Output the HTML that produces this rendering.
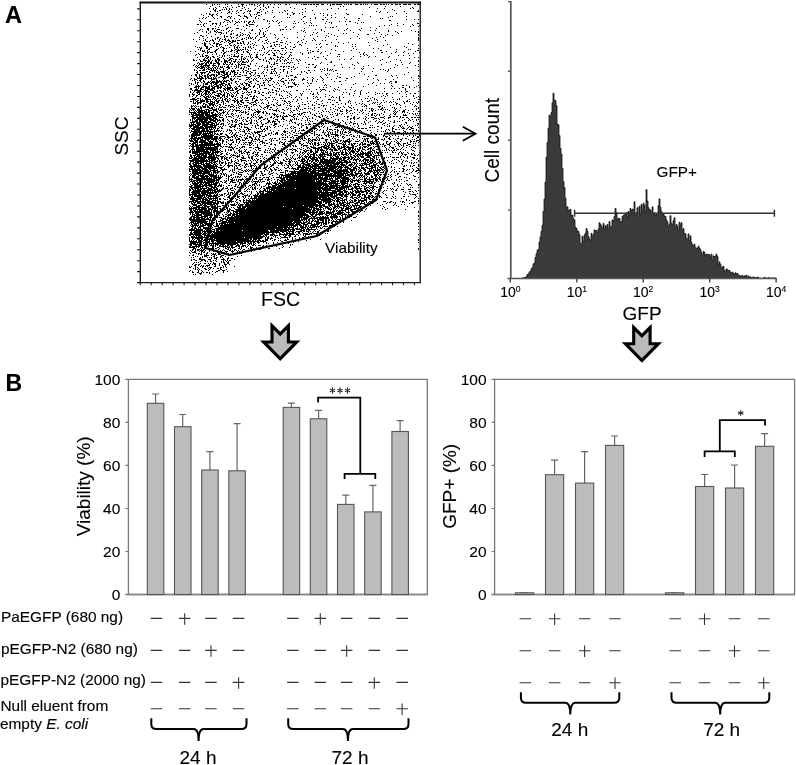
<!DOCTYPE html><html><head><meta charset="utf-8"><style>html,body{margin:0;padding:0;background:#fff;overflow:hidden}svg{display:block;filter:grayscale(1)}text{font-family:"Liberation Sans", sans-serif;stroke:#000;stroke-width:0.12px}</style></head><body>
<svg width="796" height="765" viewBox="0 0 796 765">
<rect width="796" height="765" fill="#fff"/>
<text x="5" y="23" font-size="23.5" font-weight="bold">A</text>
<text x="5.5" y="391" font-size="23" font-weight="bold">B</text>
<path d="M418 3.5h1M206 4.5h1m5 0h1m1 0h1m2 0h1m1 0h1m5 0h1m1 0h1m10 0h1m2 0h3m5 0h1m1 0h2m1 0h1m2 0h1m2 0h1m2 0h1m3 0h1m2 0h1m3 0h1m3 0h1m1 0h1m4 0h2m2 0h1m6 0h1m4 0h1m1 0h4m1 0h1m1 0h2m1 0h2m1 0h3m2 0h3m3 0h1m2 0h1m1 0h3m1 0h6m2 0h1m1 0h1m1 0h1m1 0h2m3 0h3m2 0h2m1 0h1m1 0h1m1 0h1m3 0h1m2 0h4m2 0h2m1 0h2m1 0h1m1 0h1m2 0h2m2 0h3m1 0h2m2 0h4m1 0h3m3 0h2m1 0h3M212 5.5h1m18 0h1m10 0h1m3 0h1m7 0h1m4 0h1m3 0h1m66 0h1M210 6.5h1m8 0h1m7 0h1m10 0h2m2 0h1m14 0h1m5 0h1m4 0h1m47 0h1m23 0h1m2 0h1m41 0h1m14 0h1M215 7.5h1m7 0h1m1 0h1m6 0h1m3 0h1m7 0h1m15 0h1m4 0h1m2 0h1m4 0h1m4 0h1m11 0h1m78 0h1m42 0h1M209 8.5h1m3 0h1m2 0h1m9 0h1m2 0h1m12 0h1m5 0h1m6 0h1m10 0h1m27 0h1m10 0h1m25 0h1m6 0h1m38 0h1m6 0h1m25 0h1m2 0h1M213 9.5h1m1 0h1m6 0h1m1 0h1m1 0h1m2 0h1m1 0h1m13 0h1m8 0h1m5 0h1m2 0h1m38 0h1m24 0h1m18 0h1m45 0h1M214 10.5h2m3 0h2m7 0h1m8 0h1m2 0h2m6 0h1m1 0h1m8 0h1m12 0h1m11 0h1m2 0h1m24 0h1m81 0h1m23 0h1M210 11.5h1m4 0h1m1 0h1m11 0h1m2 0h1m3 0h1m10 0h1m1 0h2m10 0h1m5 0h1m17 0h1m19 0h1m70 0h1m3 0h1m23 0h1m12 0h2M221 12.5h1m6 0h2m8 0h1m5 0h1m12 0h3m5 0h1m6 0h1m6 0h1m2 0h1m9 0h1m9 0h1m76 0h1m7 0h1M206 13.5h1m2 0h1m7 0h1m9 0h1m3 0h1m4 0h1m6 0h1m5 0h1m7 0h1m7 0h1m21 0h1m5 0h2m4 0h1m20 0h1m2 0h1m11 0h1m10 0h1m49 0h1m9 0h1M201 14.5h1m7 0h2m1 0h2m2 0h1m33 0h1m3 0h1m1 0h1m4 0h1m25 0h1m5 0h1m8 0h1m11 0h1m12 0h1m19 0h2m13 0h1M203 15.5h1m7 0h2m4 0h1m20 0h2m4 0h1m5 0h1m7 0h2m30 0h1m32 0h1m3 0h1m3 0h1M208 16.5h1m3 0h1m7 0h2m6 0h2m1 0h1m8 0h1m3 0h3m4 0h1m4 0h1m17 0h1m29 0h2m64 0h1m19 0h1m1 0h1m13 0h1M203 17.5h1m2 0h1m6 0h1m7 0h1m5 0h1m2 0h1m15 0h2m7 0h1m17 0h1m13 0h1m1 0h1m13 0h1m11 0h1m9 0h1m5 0h1m3 0h1m8 0h1m43 0h1M199 18.5h1m2 0h1m2 0h1m8 0h1m2 0h1m12 0h1m3 0h1m8 0h1m3 0h1m7 0h1m2 0h1m51 0h1m4 0h1m42 0h2m20 0h1m1 0h1M224 19.5h2m13 0h1m23 0h2m36 0h1m20 0h2m3 0h1m18 0h1m59 0h1m7 0h1m3 0h1M199 20.5h1m26 0h3m3 0h1m20 0h1m13 0h1m4 0h1m4 0h1m32 0h1m47 0h1m30 0h2M200 21.5h1m8 0h2m13 0h1m4 0h1m2 0h1m2 0h1m2 0h1m2 0h1m2 0h1m1 0h1m2 0h2m2 0h1m13 0h1m1 0h1m3 0h1m2 0h1m4 0h1m12 0h1m8 0h1m22 0h1m12 0h1m5 0h1m3 0h2M201 22.5h1m18 0h1m2 0h1m3 0h1m2 0h1m5 0h2m1 0h1m4 0h1m3 0h2m2 0h1m1 0h1m24 0h1m18 0h1m7 0h1m3 0h1m18 0h1m1 0h1m23 0h1m5 0h1m1 0h1M204 23.5h1m1 0h1m5 0h2m1 0h2m3 0h1m14 0h1m12 0h1m20 0h1m8 0h1m14 0h1m1 0h1m8 0h1m6 0h1m13 0h1m5 0h1m25 0h1m39 0h1m19 0h2M197 24.5h2m1 0h1m2 0h1m8 0h1m3 0h1m3 0h1m6 0h1m6 0h1m11 0h1m2 0h5m92 0h1m44 0h1m11 0h1m8 0h1M203 25.5h1m6 0h1m8 0h1m5 0h1m11 0h1m8 0h2m9 0h1m21 0h1m29 0h1m1 0h1m1 0h1m2 0h1m67 0h1m4 0h1m7 0h1m15 0h1m5 0h1M201 26.5h1m2 0h1m10 0h1m6 0h1m20 0h1m5 0h1m6 0h1m12 0h1m16 0h1m7 0h1m41 0h1m42 0h1m30 0h1m7 0h1M218 27.5h1m9 0h1m1 0h1m37 0h1m16 0h1m7 0h1m31 0h1m4 0h1m1 0h2m36 0h1M207 28.5h2m3 0h2m1 0h1m10 0h2m8 0h3m7 0h1m15 0h1m3 0h1m37 0h1m42 0h1m13 0h1m14 0h1M200 29.5h1m1 0h1m4 0h2m3 0h1m4 0h3m6 0h1m14 0h1m10 0h1m6 0h1m20 0h1m1 0h2m2 0h1m3 0h1m24 0h1m5 0h1m24 0h1m12 0h1M199 30.5h1m8 0h1m5 0h1m1 0h1m4 0h1m1 0h1m5 0h1m2 0h1m11 0h1m6 0h2m7 0h1m6 0h1m12 0h1m20 0h1m2 0h1m16 0h1m16 0h1m5 0h1m5 0h1m9 0h1m9 0h1m4 0h1m12 0h1m22 0h1M202 31.5h1m3 0h1m3 0h1m3 0h2m1 0h1m10 0h1m2 0h1m28 0h1m4 0h1m37 0h1m20 0h1m63 0h1m6 0h1m5 0h1m13 0h1m2 0h1M197 32.5h1m8 0h1m3 0h1m5 0h1m1 0h4m4 0h1m13 0h1m8 0h1m9 0h1m3 0h1m33 0h1m7 0h1m7 0h1m3 0h1m35 0h1m25 0h1m17 0h1m20 0h1M194 33.5h1m13 0h1m12 0h1m1 0h1m2 0h1m4 0h1m1 0h1m8 0h1m7 0h1m4 0h1m3 0h1m3 0h1m6 0h1m45 0h1m11 0h1m14 0h1m2 0h1m27 0h1m23 0h1M215 34.5h1m4 0h1m9 0h2m5 0h1m2 0h1m2 0h1m1 0h1m2 0h1m10 0h1m3 0h1m1 0h1m8 0h1m7 0h1m29 0h1m18 0h1m26 0h1m8 0h2m12 0h1m5 0h1m30 0h1M200 35.5h2m4 0h1m17 0h1m11 0h2m2 0h1m1 0h1m4 0h1m1 0h1m7 0h1m6 0h1m10 0h1m34 0h1m15 0h1m7 0h1m50 0h1m6 0h1m25 0h1M202 36.5h2m7 0h1m12 0h1m1 0h2m2 0h1m8 0h1m9 0h1m6 0h1m6 0h2m39 0h1m12 0h1m10 0h1m8 0h1m19 0h1m22 0h1M199 37.5h1m7 0h1m9 0h2m5 0h1m6 0h1m1 0h1m3 0h1m8 0h1m1 0h1m1 0h1m1 0h1m2 0h1m4 0h2m4 0h1m8 0h1m8 0h1m12 0h1m27 0h1m50 0h1m6 0h1m34 0h1M203 38.5h1m11 0h1m1 0h1m2 0h1m4 0h1m5 0h1m4 0h1m5 0h1m1 0h1m3 0h1m1 0h2m3 0h1m22 0h1m8 0h1m25 0h1m36 0h1m8 0h1m12 0h1m45 0h1M193 39.5h1m5 0h1m5 0h1m6 0h1m2 0h1m3 0h1m2 0h1m1 0h2m2 0h1m12 0h2m3 0h1m6 0h1m5 0h1m7 0h1m9 0h1m25 0h1m10 0h1m21 0h1m40 0h1m40 0h1M203 40.5h1m1 0h1m4 0h1m1 0h2m5 0h1m5 0h1m1 0h3m2 0h2m1 0h1m1 0h3m18 0h1m6 0h2m14 0h1m19 0h1m10 0h1m2 0h1m6 0h1m2 0h1m49 0h1m9 0h1m32 0h1M196 41.5h1m9 0h2m1 0h1m3 0h1m4 0h1m2 0h2m3 0h1m2 0h2m1 0h4m6 0h2m6 0h1m11 0h1m5 0h1m7 0h2m8 0h1m11 0h1m7 0h1m70 0h1M204 42.5h1m9 0h1m5 0h1m3 0h1m3 0h1m2 0h2m4 0h1m2 0h1m2 0h1m4 0h1m6 0h1m10 0h1m6 0h2m5 0h3m7 0h1m6 0h1m4 0h1m28 0h1m6 0h1m9 0h1m19 0h1M202 43.5h1m1 0h2m3 0h1m3 0h2m1 0h3m10 0h2m6 0h2m1 0h2m1 0h1m4 0h1m3 0h1m11 0h1m2 0h1m2 0h1m14 0h1m19 0h1m14 0h1m22 0h1m64 0h1M204 44.5h2m4 0h1m5 0h2m1 0h3m7 0h1m4 0h1m9 0h1m2 0h1m2 0h1m3 0h1m19 0h1m1 0h2m1 0h1m7 0h1m6 0h1m4 0h2m15 0h1m2 0h1m6 0h2m24 0h1m2 0h1m31 0h1m24 0h1M204 45.5h2m6 0h1m3 0h1m2 0h1m5 0h1m1 0h1m2 0h2m1 0h1m1 0h1m2 0h1m2 0h1m11 0h1m2 0h1m5 0h1m8 0h1m2 0h1m6 0h1m19 0h1m33 0h1m33 0h1m13 0h1m34 0h1M195 46.5h1m9 0h3m5 0h1m2 0h2m3 0h1m12 0h1m2 0h1m10 0h1m1 0h1m12 0h1m6 0h2m3 0h1m3 0h1m5 0h1m4 0h1m4 0h1m25 0h1m13 0h1m1 0h1m14 0h1m2 0h1m48 0h1M197 47.5h1m1 0h1m1 0h1m4 0h2m2 0h2m8 0h1m1 0h2m5 0h1m4 0h1m1 0h2m1 0h1m3 0h1m1 0h1m2 0h1m1 0h1m2 0h1m9 0h1m3 0h1m17 0h1m7 0h2m21 0h1m3 0h1m69 0h1m15 0h1M200 48.5h2m4 0h2m1 0h1m8 0h1m4 0h2m1 0h1m7 0h1m2 0h1m7 0h1m5 0h1m10 0h1m1 0h1m7 0h2m7 0h3m2 0h1m20 0h1m45 0h1m19 0h1m4 0h1m39 0h1M198 49.5h1m1 0h1m7 0h2m6 0h2m5 0h1m7 0h1m3 0h2m1 0h1m1 0h1m1 0h2m1 0h1m1 0h1m7 0h1m8 0h1m25 0h1m1 0h1m25 0h1m12 0h1m24 0h1m39 0h1m11 0h1m1 0h1M200 50.5h1m1 0h1m1 0h1m2 0h1m7 0h2m5 0h2m7 0h2m1 0h1m2 0h3m1 0h1m6 0h1m1 0h1m8 0h1m1 0h1m7 0h1m1 0h1m2 0h2m1 0h2m3 0h1m2 0h1m21 0h1m2 0h1m24 0h1m15 0h1m28 0h2m35 0h2M190 51.5h1m4 0h1m6 0h3m2 0h1m1 0h1m4 0h2m7 0h1m2 0h1m1 0h1m1 0h2m4 0h2m5 0h1m2 0h2m20 0h1m10 0h1m32 0h2m3 0h2m6 0h1m17 0h1m42 0h1m9 0h1m7 0h1m10 0h1M205 52.5h1m1 0h2m1 0h3m2 0h1m5 0h1m2 0h2m8 0h1m2 0h1m5 0h1m3 0h2m5 0h1m2 0h1m6 0h1m2 0h1m4 0h1m3 0h1m9 0h1m3 0h2m8 0h1m7 0h1m1 0h1m10 0h1m37 0h1m4 0h1m8 0h1m7 0h2m12 0h1m7 0h1m15 0h1M198 53.5h1m4 0h1m3 0h1m8 0h1m6 0h2m11 0h1m1 0h1m10 0h1m16 0h1m6 0h2m5 0h1m4 0h1m16 0h1m5 0h1m11 0h1m9 0h1m32 0h1m27 0h1m16 0h1m4 0h1M196 54.5h1m2 0h1m2 0h1m9 0h1m3 0h1m6 0h1m7 0h1m2 0h1m6 0h2m6 0h1m1 0h1m4 0h2m2 0h1m2 0h1m4 0h2m4 0h1m6 0h2m1 0h1m5 0h1m11 0h1m35 0h2m20 0h1m2 0h1m2 0h1M195 55.5h1m6 0h1m2 0h3m11 0h1m2 0h1m1 0h1m2 0h1m1 0h1m4 0h1m3 0h1m11 0h1m5 0h1m5 0h1m10 0h3m13 0h1m1 0h1m35 0h1m36 0h1m2 0h1m30 0h1m4 0h1m5 0h1M200 56.5h1m1 0h2m2 0h1m1 0h1m3 0h2m3 0h1m4 0h1m1 0h1m6 0h1m1 0h6m2 0h2m3 0h1m1 0h1m1 0h1m5 0h2m19 0h1m3 0h1m7 0h1m24 0h1m8 0h1m13 0h1m1 0h1m13 0h1m6 0h1m8 0h1m5 0h1m13 0h1M197 57.5h1m7 0h1m1 0h2m1 0h1m2 0h2m4 0h1m1 0h1m7 0h1m7 0h1m3 0h1m2 0h1m5 0h1m1 0h1m2 0h3m7 0h1m4 0h1m6 0h2m1 0h1m1 0h2m4 0h1m19 0h1m8 0h2m49 0h1m19 0h1m25 0h1m3 0h1M204 58.5h1m1 0h2m2 0h1m6 0h2m4 0h1m3 0h1m2 0h3m8 0h1m1 0h1m1 0h1m5 0h1m6 0h1m6 0h1m4 0h2m1 0h1m6 0h1m6 0h1m3 0h1m1 0h1m18 0h1m12 0h1m25 0h1m57 0h1M193 59.5h1m5 0h1m3 0h2m3 0h1m1 0h1m4 0h1m1 0h3m4 0h1m4 0h2m2 0h1m1 0h2m2 0h1m1 0h1m1 0h2m2 0h1m5 0h1m5 0h2m2 0h1m5 0h1m1 0h1m2 0h1m2 0h1m1 0h1m2 0h1m2 0h1m2 0h1m7 0h1m2 0h1m15 0h1m10 0h1m12 0h1m4 0h1m5 0h1m31 0h1m13 0h1M193 60.5h2m1 0h1m3 0h1m2 0h4m1 0h2m2 0h1m2 0h2m1 0h2m4 0h3m1 0h2m1 0h1m3 0h1m5 0h1m6 0h1m3 0h1m10 0h1m2 0h1m10 0h1m2 0h1m3 0h1m1 0h1m4 0h1m5 0h1m2 0h1m79 0h1m19 0h1m17 0h1M200 61.5h3m2 0h1m1 0h3m1 0h1m3 0h2m1 0h1m2 0h1m2 0h4m3 0h1m1 0h3m2 0h1m1 0h1m1 0h2m2 0h1m1 0h1m2 0h1m14 0h1m1 0h1m7 0h1m3 0h1m3 0h1m13 0h1m32 0h1m58 0h1m27 0h1M198 62.5h1m5 0h1m1 0h3m1 0h2m4 0h3m5 0h2m1 0h1m1 0h2m3 0h1m2 0h1m1 0h1m2 0h4m1 0h1m21 0h1m4 0h1m12 0h2m1 0h1m1 0h1m12 0h1m15 0h1m8 0h2m25 0h1m28 0h1m14 0h1m8 0h1M197 63.5h1m1 0h1m1 0h3m1 0h2m1 0h1m1 0h2m1 0h3m1 0h3m3 0h1m1 0h1m4 0h1m1 0h1m5 0h1m2 0h1m8 0h1m5 0h1m12 0h1m4 0h1m1 0h2m4 0h1m1 0h1m1 0h1m2 0h1m8 0h1m21 0h1m37 0h1m50 0h1M194 64.5h1m4 0h4m2 0h2m2 0h1m3 0h1m4 0h2m3 0h2m1 0h2m1 0h1m1 0h2m2 0h1m2 0h2m1 0h5m4 0h1m20 0h1m1 0h2m19 0h1m13 0h2m2 0h2m13 0h1m13 0h1m10 0h1m28 0h1m13 0h1m6 0h1m15 0h1M193 65.5h1m2 0h1m1 0h1m2 0h1m1 0h7m2 0h4m2 0h1m9 0h1m7 0h1m1 0h1m1 0h1m6 0h2m6 0h1m6 0h1m4 0h1m9 0h1m38 0h1m17 0h1m19 0h1m13 0h1m28 0h1m17 0h1M195 66.5h1m1 0h1m2 0h4m1 0h1m1 0h2m4 0h1m2 0h1m1 0h1m1 0h1m1 0h1m1 0h1m2 0h2m2 0h1m2 0h1m1 0h1m1 0h1m5 0h1m3 0h2m9 0h1m1 0h1m5 0h1m2 0h1m1 0h1m7 0h2m1 0h2m1 0h1m1 0h2m3 0h1m21 0h1m47 0h1m54 0h1M196 67.5h1m1 0h2m1 0h4m1 0h1m1 0h2m2 0h1m1 0h2m1 0h1m2 0h3m3 0h4m6 0h1m1 0h1m2 0h1m2 0h1m1 0h1m17 0h1m1 0h2m3 0h1m11 0h1m7 0h1m1 0h1m3 0h1m8 0h1m1 0h1m5 0h2m26 0h1m6 0h1m44 0h1m12 0h1M197 68.5h1m2 0h3m1 0h1m2 0h2m1 0h2m1 0h1m1 0h1m1 0h1m1 0h1m3 0h1m4 0h2m2 0h1m2 0h1m4 0h2m1 0h1m4 0h1m1 0h1m7 0h1m15 0h2m12 0h1m6 0h1m28 0h1m2 0h1m26 0h1m6 0h1m1 0h1m9 0h1m16 0h1M194 69.5h1m8 0h2m1 0h1m1 0h2m1 0h1m1 0h1m2 0h1m3 0h1m2 0h1m3 0h1m15 0h1m4 0h1m15 0h1m2 0h1m3 0h2m1 0h1m5 0h1m2 0h2m6 0h1m2 0h1m25 0h1m1 0h1m4 0h1m2 0h1m1 0h1m29 0h1m17 0h1m2 0h1m4 0h1M194 70.5h1m1 0h1m2 0h2m1 0h3m5 0h6m1 0h1m5 0h1m1 0h1m5 0h1m1 0h2m2 0h2m3 0h1m2 0h2m6 0h3m11 0h1m6 0h1m8 0h1m24 0h2m4 0h1m9 0h1m2 0h1m1 0h1m1 0h1m3 0h2m48 0h1m2 0h1m29 0h1M197 71.5h1m8 0h2m1 0h1m2 0h1m1 0h1m1 0h1m1 0h1m1 0h5m3 0h1m2 0h4m8 0h1m3 0h2m1 0h1m12 0h1m7 0h1m1 0h1m1 0h1m7 0h1m3 0h1m3 0h1m9 0h1m2 0h1m16 0h1m11 0h1m27 0h1m10 0h1m14 0h1M196 72.5h2m2 0h6m3 0h2m3 0h1m1 0h4m1 0h4m1 0h2m2 0h1m1 0h1m1 0h2m1 0h1m2 0h1m2 0h1m2 0h1m4 0h2m2 0h1m6 0h1m3 0h1m4 0h1m4 0h1m3 0h1m6 0h1m13 0h1m4 0h1m3 0h1m97 0h1M197 73.5h1m3 0h2m1 0h1m3 0h1m9 0h2m3 0h2m1 0h2m2 0h1m3 0h1m2 0h1m8 0h1m2 0h2m4 0h1m2 0h1m2 0h1m1 0h1m6 0h3m1 0h1m1 0h1m10 0h1m19 0h1m19 0h1m9 0h1m21 0h1M195 74.5h2m2 0h1m1 0h1m5 0h2m2 0h4m1 0h1m1 0h2m1 0h1m2 0h4m1 0h2m3 0h3m2 0h2m9 0h1m3 0h1m24 0h1m17 0h1m2 0h1m24 0h1m3 0h1m10 0h1m23 0h1m39 0h1M191 75.5h1m3 0h2m2 0h1m2 0h1m1 0h2m1 0h1m1 0h3m1 0h2m1 0h2m4 0h3m2 0h2m5 0h1m7 0h1m1 0h3m4 0h1m1 0h1m3 0h3m4 0h1m1 0h1m8 0h1m1 0h1m8 0h1m3 0h3m33 0h1m48 0h2m14 0h1m4 0h1m21 0h1M196 76.5h1m2 0h3m2 0h2m1 0h2m1 0h1m3 0h1m1 0h1m3 0h2m2 0h1m1 0h3m2 0h1m1 0h1m1 0h1m1 0h4m9 0h1m4 0h1m3 0h1m4 0h1m14 0h1m6 0h1m1 0h1m6 0h1m24 0h1m16 0h1m16 0h1m13 0h1m23 0h1m25 0h2M197 77.5h1m1 0h1m1 0h2m2 0h1m1 0h2m2 0h1m1 0h1m1 0h1m2 0h2m2 0h5m1 0h1m17 0h4m8 0h1m11 0h1m7 0h1m15 0h3m10 0h1m4 0h1m8 0h1m5 0h1m11 0h2m10 0h1m45 0h1m13 0h1M191 78.5h1m2 0h1m2 0h7m1 0h2m1 0h4m1 0h4m6 0h3m4 0h2m2 0h1m2 0h1m10 0h1m2 0h1m2 0h1m1 0h1m3 0h1m1 0h1m2 0h1m2 0h1m1 0h3m9 0h2m4 0h1m14 0h1m9 0h1m8 0h1m13 0h1m9 0h2m25 0h1m44 0h1M190 79.5h1m3 0h3m3 0h2m3 0h1m5 0h4m1 0h1m6 0h1m6 0h2m1 0h1m5 0h2m5 0h2m1 0h1m3 0h1m1 0h1m10 0h1m4 0h1m9 0h1m9 0h2m1 0h1m7 0h3m7 0h1m4 0h1m5 0h1m7 0h1m35 0h1m9 0h1m7 0h1m7 0h1M192 80.5h1m1 0h1m2 0h1m1 0h2m2 0h1m7 0h1m4 0h2m1 0h1m2 0h1m1 0h1m1 0h3m2 0h2m12 0h1m7 0h1m2 0h1m6 0h1m1 0h1m1 0h1m1 0h2m7 0h1m1 0h1m4 0h2m2 0h1m1 0h1m1 0h1m8 0h1m4 0h1m4 0h1m9 0h1m22 0h1m32 0h1m34 0h1M195 81.5h1m4 0h1m2 0h2m3 0h1m1 0h1m1 0h3m1 0h6m1 0h4m2 0h1m5 0h2m1 0h1m9 0h1m1 0h2m5 0h2m9 0h1m4 0h1m7 0h3m28 0h1m3 0h1m17 0h1m4 0h2m49 0h2m3 0h2M195 82.5h1m1 0h2m2 0h1m2 0h1m2 0h3m1 0h8m1 0h2m1 0h1m2 0h1m4 0h1m3 0h1m8 0h1m4 0h2m12 0h2m3 0h1m5 0h1m2 0h1m5 0h1m4 0h1m3 0h1m1 0h1m12 0h1m15 0h1m49 0h1m15 0h1m5 0h2m21 0h1M189 83.5h1m1 0h1m3 0h1m1 0h1m5 0h1m1 0h3m2 0h2m1 0h1m1 0h3m3 0h4m3 0h2m1 0h1m4 0h1m3 0h1m1 0h1m2 0h3m3 0h1m3 0h1m4 0h1m2 0h1m14 0h1m5 0h1m3 0h1m4 0h2m8 0h1m4 0h1m1 0h2m43 0h1m16 0h1m7 0h1m3 0h1m6 0h1M191 84.5h1m1 0h1m3 0h1m5 0h1m1 0h3m3 0h1m2 0h3m2 0h4m2 0h2m1 0h2m7 0h1m3 0h2m3 0h1m1 0h2m7 0h2m5 0h1m3 0h1m3 0h1m3 0h1m6 0h1m10 0h3m1 0h1m26 0h1m15 0h1m11 0h1m14 0h1M189 85.5h1m6 0h1m1 0h1m1 0h1m2 0h1m5 0h1m1 0h1m1 0h1m2 0h3m1 0h1m1 0h2m1 0h1m1 0h1m1 0h2m8 0h1m3 0h1m2 0h1m1 0h2m4 0h1m4 0h1m1 0h2m1 0h1m4 0h2m8 0h1m5 0h1m9 0h1m13 0h1m14 0h1m1 0h1m49 0h1m14 0h1m10 0h2m2 0h1m11 0h1M195 86.5h5m2 0h5m1 0h2m1 0h2m1 0h5m1 0h2m2 0h1m2 0h1m2 0h1m4 0h1m2 0h2m4 0h1m4 0h2m2 0h2m4 0h1m13 0h1m7 0h1m6 0h5m4 0h1m9 0h1m22 0h1m32 0h1m28 0h1m16 0h1m6 0h1M194 87.5h3m1 0h1m2 0h3m1 0h5m2 0h3m2 0h5m3 0h1m1 0h5m2 0h1m1 0h1m3 0h1m2 0h2m3 0h1m4 0h1m5 0h1m14 0h1m11 0h1m1 0h1m2 0h1m27 0h1m3 0h1m2 0h1m11 0h1m12 0h1m50 0h2m5 0h1m4 0h1m4 0h1M190 88.5h2m4 0h1m1 0h1m1 0h2m3 0h5m1 0h4m2 0h2m1 0h1m2 0h2m1 0h5m1 0h1m2 0h3m3 0h1m1 0h5m9 0h1m6 0h3m10 0h1m1 0h1m54 0h1m49 0h1m6 0h1m2 0h1m4 0h1m5 0h1M190 89.5h2m3 0h3m2 0h4m1 0h1m1 0h6m1 0h1m9 0h2m1 0h3m2 0h1m2 0h2m2 0h2m2 0h4m3 0h1m9 0h1m7 0h1m3 0h1m6 0h1m26 0h1m2 0h1m6 0h1m3 0h1m1 0h3m10 0h1m1 0h1m7 0h1m4 0h1m54 0h1M192 90.5h1m1 0h7m3 0h4m2 0h4m3 0h1m1 0h2m2 0h1m1 0h1m1 0h1m2 0h4m3 0h2m7 0h1m7 0h2m16 0h1m2 0h2m6 0h1m12 0h2m23 0h1m3 0h1m7 0h1m5 0h1m15 0h1m5 0h1m43 0h1M190 91.5h1m3 0h1m2 0h5m1 0h1m1 0h5m3 0h2m1 0h2m2 0h2m1 0h1m4 0h1m7 0h2m4 0h1m4 0h1m3 0h1m3 0h1m2 0h1m10 0h1m6 0h1m1 0h1m2 0h1m2 0h1m1 0h1m3 0h1m12 0h1m7 0h1m8 0h1m8 0h1m4 0h1m19 0h1m5 0h1m23 0h1m12 0h1m3 0h1m4 0h2m10 0h1M190 92.5h1m2 0h1m2 0h4m2 0h1m2 0h2m1 0h2m2 0h4m5 0h1m2 0h1m1 0h1m3 0h1m2 0h1m1 0h1m1 0h1m6 0h1m1 0h1m1 0h2m1 0h1m2 0h2m3 0h1m2 0h2m4 0h1m1 0h1m1 0h2m13 0h1m29 0h1m25 0h1m2 0h1m13 0h1m7 0h1m6 0h1m29 0h1M192 93.5h1m4 0h1m1 0h1m1 0h1m2 0h3m1 0h1m1 0h1m1 0h1m4 0h4m3 0h1m2 0h2m2 0h1m2 0h1m2 0h2m3 0h2m14 0h2m6 0h1m1 0h1m7 0h1m12 0h1m10 0h1m1 0h1m7 0h1m2 0h1m3 0h1m31 0h1m4 0h1m5 0h1m5 0h1m10 0h1m1 0h1m2 0h1m3 0h2m4 0h1m6 0h1m10 0h1m3 0h2M189 94.5h1m2 0h3m3 0h2m1 0h1m1 0h1m1 0h3m1 0h1m1 0h1m2 0h1m3 0h1m1 0h2m1 0h2m2 0h1m1 0h1m2 0h1m3 0h1m10 0h1m1 0h2m10 0h1m14 0h1m2 0h1m10 0h1m10 0h1m10 0h2m4 0h1m6 0h1m16 0h1m6 0h1m10 0h1m14 0h1m10 0h1m19 0h1M189 95.5h1m3 0h1m2 0h2m3 0h2m2 0h1m2 0h1m1 0h1m4 0h5m2 0h3m2 0h1m1 0h1m1 0h1m1 0h1m2 0h1m4 0h2m5 0h1m5 0h1m7 0h2m6 0h1m8 0h1m1 0h1m5 0h1m3 0h1m9 0h1m27 0h1m23 0h1m29 0h1m3 0h1m25 0h1M189 96.5h1m2 0h1m3 0h1m3 0h1m2 0h2m1 0h3m1 0h1m1 0h2m3 0h3m2 0h1m1 0h1m1 0h2m3 0h3m1 0h1m6 0h1m7 0h2m1 0h2m1 0h1m25 0h1m6 0h1m6 0h1m16 0h1m2 0h1m8 0h1m6 0h1m6 0h1m19 0h1m8 0h1m12 0h1m3 0h1m16 0h1m3 0h1m6 0h1m4 0h1M195 97.5h1m8 0h3m1 0h2m1 0h1m1 0h3m4 0h2m2 0h1m2 0h1m4 0h1m4 0h1m2 0h1m1 0h1m2 0h1m1 0h1m5 0h1m3 0h1m7 0h1m2 0h2m2 0h1m1 0h1m12 0h1m3 0h1m3 0h1m3 0h1m7 0h1m7 0h1m1 0h1m2 0h1m10 0h1m1 0h1m2 0h1m2 0h1m3 0h1m28 0h1m19 0h1m23 0h1m2 0h1M192 98.5h3m2 0h2m1 0h1m4 0h3m5 0h1m1 0h1m1 0h2m1 0h1m1 0h1m2 0h2m2 0h1m4 0h2m5 0h1m2 0h1m1 0h2m4 0h3m11 0h1m13 0h2m1 0h1m1 0h1m21 0h1m5 0h1m25 0h1m25 0h1m1 0h1m2 0h1m3 0h1m9 0h1m14 0h1m14 0h1M190 99.5h7m3 0h1m1 0h1m2 0h6m1 0h1m1 0h1m1 0h1m5 0h1m1 0h2m1 0h1m2 0h1m4 0h1m1 0h1m4 0h1m9 0h1m3 0h1m3 0h1m1 0h1m2 0h1m7 0h1m1 0h1m17 0h1m3 0h1m3 0h1m15 0h2m9 0h3m8 0h1m21 0h1m12 0h1m1 0h1m16 0h1m3 0h1m1 0h1m9 0h1m8 0h2M193 100.5h1m1 0h1m1 0h2m1 0h5m1 0h2m2 0h1m4 0h2m1 0h2m1 0h2m2 0h1m1 0h1m1 0h1m2 0h3m1 0h2m2 0h3m2 0h4m3 0h1m2 0h3m3 0h1m5 0h1m9 0h1m4 0h1m1 0h1m12 0h1m24 0h1m9 0h1m1 0h1m4 0h2m8 0h1m19 0h1m1 0h1m5 0h1m5 0h1m23 0h1M190 101.5h2m1 0h1m2 0h2m2 0h5m1 0h3m1 0h3m1 0h1m1 0h3m3 0h2m2 0h3m5 0h2m1 0h2m1 0h2m12 0h2m16 0h1m11 0h2m2 0h2m2 0h1m3 0h1m10 0h1m2 0h1m5 0h1m4 0h1m26 0h1m1 0h1m11 0h1m4 0h2m17 0h1m3 0h1m2 0h1m9 0h1m2 0h2m1 0h1m8 0h1M193 102.5h1m1 0h1m1 0h5m4 0h2m2 0h1m1 0h3m2 0h2m2 0h1m1 0h1m4 0h1m5 0h1m2 0h2m2 0h3m3 0h2m2 0h3m1 0h1m2 0h1m3 0h1m5 0h1m8 0h1m8 0h1m3 0h1m11 0h1m11 0h1m12 0h1m2 0h1m5 0h2m10 0h1m6 0h1m17 0h1m1 0h1m1 0h1m3 0h1m2 0h1m4 0h1m1 0h1m3 0h1m8 0h1m8 0h1m2 0h1m1 0h1M193 103.5h3m1 0h2m1 0h1m2 0h2m3 0h5m1 0h1m1 0h2m5 0h1m1 0h1m11 0h1m1 0h1m3 0h1m5 0h2m5 0h1m4 0h1m1 0h1m4 0h1m7 0h1m7 0h1m2 0h1m1 0h1m8 0h1m9 0h1m7 0h1m5 0h1m18 0h1m3 0h1m4 0h1m8 0h1m2 0h1m9 0h1m1 0h1m5 0h1m15 0h2m6 0h1m5 0h1m6 0h1M197 104.5h1m5 0h1m1 0h2m2 0h6m4 0h2m2 0h1m7 0h2m5 0h1m1 0h2m9 0h1m1 0h3m10 0h1m4 0h1m1 0h1m3 0h1m2 0h1m2 0h1m6 0h1m11 0h1m1 0h2m6 0h1m5 0h2m12 0h2m4 0h1m6 0h1m10 0h1m4 0h1m2 0h1m4 0h1m7 0h1m1 0h1m13 0h1m2 0h1m2 0h1m12 0h1M191 105.5h1m1 0h1m1 0h1m6 0h1m2 0h1m1 0h1m1 0h2m1 0h2m1 0h1m1 0h1m2 0h1m4 0h2m1 0h2m3 0h1m2 0h1m1 0h1m5 0h4m5 0h1m2 0h1m2 0h1m7 0h3m3 0h2m3 0h3m6 0h1m1 0h1m9 0h1m12 0h1m1 0h1m6 0h1m1 0h2m1 0h1m24 0h1m13 0h2m15 0h1m7 0h1m9 0h1m14 0h1M191 106.5h2m1 0h1m1 0h1m1 0h1m1 0h1m1 0h4m1 0h2m4 0h1m2 0h1m2 0h1m2 0h1m5 0h1m1 0h3m1 0h1m4 0h2m1 0h1m3 0h1m4 0h1m8 0h1m5 0h3m7 0h1m13 0h2m2 0h1m2 0h1m1 0h1m8 0h1m14 0h1m11 0h1m7 0h1m4 0h1m13 0h1m1 0h1m1 0h1m11 0h3m24 0h1m8 0h1m1 0h1M191 107.5h1m3 0h1m4 0h2m1 0h3m1 0h3m1 0h2m1 0h1m4 0h3m1 0h3m4 0h1m2 0h1m2 0h1m1 0h1m5 0h1m1 0h1m1 0h2m11 0h1m2 0h2m1 0h1m2 0h2m14 0h1m11 0h1m15 0h1m3 0h2m10 0h1m7 0h1m1 0h1m3 0h1m4 0h2m2 0h1m25 0h1m2 0h1m1 0h1m7 0h1m1 0h1m5 0h1m17 0h1M189 108.5h1m1 0h4m1 0h1m1 0h1m1 0h2m7 0h4m3 0h1m1 0h1m17 0h1m2 0h1m9 0h1m13 0h1m3 0h1m9 0h1m10 0h1m1 0h1m5 0h1m1 0h1m5 0h2m2 0h1m1 0h1m3 0h1m10 0h1m7 0h1m5 0h1m11 0h1m14 0h1m2 0h1m1 0h2m8 0h2m11 0h1m1 0h1m19 0h1m1 0h1M190 109.5h1m1 0h3m2 0h3m1 0h1m3 0h4m3 0h5m1 0h1m1 0h3m2 0h1m1 0h1m2 0h1m1 0h1m1 0h1m10 0h1m2 0h2m1 0h1m2 0h1m2 0h1m2 0h1m3 0h1m4 0h2m1 0h1m3 0h1m5 0h2m3 0h1m8 0h1m3 0h1m1 0h1m9 0h1m12 0h1m4 0h1m4 0h1m1 0h1m4 0h1m3 0h1m7 0h1m2 0h1m4 0h1m8 0h1m1 0h1m4 0h1m1 0h2m1 0h1m1 0h1m1 0h1m7 0h1m9 0h1m6 0h1m3 0h1M189 110.5h1m1 0h1m1 0h1m1 0h1m1 0h8m1 0h1m1 0h4m1 0h4m2 0h3m1 0h1m5 0h1m3 0h1m1 0h5m1 0h1m10 0h1m2 0h1m2 0h1m14 0h4m1 0h1m5 0h1m5 0h1m2 0h2m2 0h1m16 0h1m7 0h1m14 0h1m2 0h1m5 0h2m2 0h2m5 0h1m2 0h1m1 0h1m2 0h1m5 0h2m2 0h1m6 0h1m6 0h1m4 0h1m4 0h1m3 0h2m3 0h1M189 111.5h1m4 0h1m1 0h1m1 0h5m1 0h3m1 0h2m3 0h1m2 0h2m5 0h1m1 0h1m2 0h1m3 0h1m3 0h1m3 0h1m2 0h1m1 0h1m2 0h1m7 0h5m2 0h1m1 0h1m10 0h1m2 0h1m11 0h1m7 0h1m9 0h1m8 0h1m4 0h1m2 0h1m1 0h1m5 0h1m5 0h3m3 0h1m2 0h1m11 0h1m7 0h1m2 0h1m11 0h1m8 0h1m1 0h1m1 0h1m4 0h3m8 0h1m4 0h2M189 112.5h7m1 0h13m1 0h3m3 0h1m1 0h1m2 0h3m2 0h1m11 0h1m1 0h3m1 0h2m7 0h2m1 0h3m2 0h2m2 0h1m14 0h1m1 0h1m6 0h1m1 0h1m10 0h3m1 0h1m2 0h1m10 0h1m7 0h1m2 0h1m14 0h1m6 0h1m4 0h1m3 0h1m20 0h1m9 0h1m1 0h1m5 0h1m1 0h1m2 0h1M191 113.5h1m1 0h4m1 0h2m1 0h7m1 0h1m1 0h2m2 0h1m2 0h1m1 0h2m1 0h1m3 0h1m3 0h2m2 0h1m9 0h1m2 0h1m4 0h1m4 0h1m4 0h1m2 0h2m1 0h1m2 0h1m1 0h1m8 0h2m12 0h1m1 0h1m1 0h2m7 0h1m5 0h1m2 0h1m15 0h1m1 0h1m1 0h1m2 0h1m3 0h1m3 0h1m1 0h1m9 0h1m5 0h1m3 0h1m1 0h2m5 0h1m11 0h1m1 0h1m13 0h1m2 0h1m2 0h1m1 0h1m1 0h1M189 114.5h1m1 0h3m1 0h9m1 0h5m2 0h6m1 0h2m5 0h1m1 0h1m2 0h1m1 0h1m7 0h1m5 0h2m2 0h1m1 0h1m1 0h1m1 0h1m11 0h1m3 0h3m1 0h1m10 0h1m4 0h3m2 0h2m1 0h1m2 0h1m7 0h1m1 0h1m6 0h1m8 0h1m1 0h1m4 0h1m3 0h1m15 0h1m8 0h1m4 0h2m4 0h1m1 0h1m3 0h1m6 0h1m3 0h2m7 0h1m1 0h1m7 0h1m1 0h1M192 115.5h12m1 0h12m1 0h1m1 0h1m1 0h1m2 0h1m6 0h1m3 0h1m1 0h1m1 0h1m10 0h1m1 0h1m5 0h1m5 0h1m8 0h1m1 0h1m3 0h1m2 0h1m2 0h1m2 0h2m2 0h1m6 0h1m13 0h2m6 0h1m2 0h1m10 0h2m13 0h1m16 0h1m2 0h2m1 0h1m1 0h1m2 0h1m9 0h1m13 0h4m9 0h1m1 0h1M191 116.5h3m2 0h2m1 0h6m1 0h8m1 0h3m1 0h1m6 0h1m1 0h3m2 0h1m4 0h1m13 0h1m2 0h1m2 0h1m2 0h1m9 0h1m4 0h3m1 0h1m1 0h1m1 0h4m3 0h2m1 0h1m2 0h1m5 0h1m1 0h1m2 0h1m7 0h1m1 0h2m2 0h1m4 0h1m5 0h1m10 0h1m2 0h2m5 0h1m10 0h1m9 0h1m8 0h1m5 0h1m2 0h2m1 0h2m2 0h1M192 117.5h19m1 0h4m3 0h4m3 0h1m4 0h1m5 0h1m3 0h1m1 0h1m3 0h2m2 0h1m1 0h1m2 0h1m2 0h4m7 0h2m2 0h1m2 0h1m4 0h2m9 0h1m12 0h1m5 0h1m6 0h2m5 0h1m4 0h1m15 0h1m5 0h2m4 0h1m6 0h1m4 0h3m6 0h4m4 0h3m9 0h1m1 0h2m2 0h2m3 0h2m1 0h2m1 0h3M192 118.5h4m1 0h15m1 0h4m6 0h1m9 0h1m5 0h1m1 0h1m5 0h1m2 0h1m8 0h2m4 0h1m1 0h1m5 0h1m8 0h2m10 0h1m1 0h1m5 0h1m4 0h1m1 0h1m2 0h1m10 0h2m2 0h2m21 0h2m1 0h2m2 0h2m4 0h1m1 0h1m2 0h1m5 0h3m1 0h1m5 0h1m3 0h1m10 0h1m8 0h1M190 119.5h1m1 0h1m1 0h1m1 0h12m1 0h5m1 0h3m1 0h1m2 0h2m3 0h1m7 0h2m6 0h1m1 0h1m5 0h1m6 0h1m4 0h2m2 0h1m7 0h3m3 0h1m1 0h2m5 0h1m1 0h1m1 0h1m1 0h1m1 0h1m8 0h1m7 0h1m5 0h1m13 0h1m2 0h1m8 0h1m2 0h1m3 0h1m10 0h1m7 0h1m5 0h1m24 0h1m4 0h1m2 0h1m3 0h1m1 0h1M190 120.5h1m1 0h1m2 0h3m1 0h4m1 0h4m2 0h6m1 0h4m1 0h2m4 0h1m2 0h2m2 0h1m1 0h1m1 0h1m2 0h1m3 0h1m2 0h1m1 0h1m2 0h1m1 0h1m4 0h1m6 0h2m3 0h1m3 0h1m8 0h1m3 0h2m9 0h1m3 0h1m1 0h1m1 0h1m7 0h1m6 0h1m8 0h1m4 0h1m3 0h1m23 0h1m9 0h1m6 0h1m4 0h1m5 0h1m7 0h1m5 0h1m1 0h1m5 0h1M192 121.5h6m1 0h8m1 0h3m2 0h3m1 0h1m2 0h1m2 0h1m5 0h1m2 0h1m1 0h1m1 0h1m6 0h1m2 0h2m3 0h1m4 0h1m3 0h1m7 0h2m2 0h4m2 0h2m3 0h1m5 0h1m1 0h1m18 0h1m1 0h1m12 0h3m4 0h1m10 0h1m6 0h1m3 0h1m9 0h1m5 0h1m4 0h1m3 0h1m2 0h1m7 0h1m3 0h1m2 0h1m1 0h1m13 0h1m5 0h1M190 122.5h5m1 0h4m1 0h12m2 0h2m2 0h1m7 0h1m4 0h1m2 0h2m4 0h1m8 0h2m5 0h1m3 0h1m5 0h2m1 0h1m1 0h1m1 0h1m4 0h1m12 0h1m1 0h2m9 0h1m2 0h1m16 0h1m6 0h1m7 0h1m4 0h1m4 0h2m12 0h1m3 0h1m9 0h1m1 0h2m3 0h1m7 0h2m10 0h2M191 123.5h1m1 0h1m2 0h5m1 0h3m1 0h3m2 0h4m1 0h1m1 0h1m2 0h3m5 0h1m9 0h3m2 0h1m3 0h1m1 0h2m2 0h1m1 0h1m4 0h1m3 0h2m7 0h3m12 0h1m5 0h1m3 0h1m1 0h1m7 0h1m3 0h3m5 0h3m1 0h2m1 0h1m4 0h1m4 0h2m5 0h1m3 0h1m3 0h3m1 0h1m3 0h1m3 0h1m11 0h1m5 0h2m4 0h1m16 0h1m10 0h2M189 124.5h1m1 0h5m1 0h4m1 0h11m1 0h1m1 0h3m1 0h2m1 0h1m4 0h1m2 0h2m2 0h2m1 0h1m2 0h2m1 0h4m9 0h1m4 0h2m7 0h1m2 0h3m6 0h1m13 0h2m2 0h1m3 0h2m1 0h3m10 0h1m1 0h1m9 0h1m12 0h1m6 0h1m3 0h1m5 0h1m1 0h1m16 0h1m4 0h1m13 0h1m2 0h1m13 0h1M189 125.5h5m1 0h5m2 0h6m2 0h7m6 0h1m1 0h1m5 0h1m2 0h2m3 0h1m12 0h1m2 0h1m1 0h2m3 0h1m10 0h2m5 0h1m6 0h1m10 0h1m3 0h2m9 0h1m3 0h1m4 0h1m9 0h1m1 0h2m7 0h1m6 0h1m7 0h1m11 0h1m1 0h1m11 0h1m4 0h1m4 0h1m4 0h2m6 0h1m7 0h1m1 0h1M189 126.5h3m1 0h6m1 0h3m1 0h9m1 0h2m2 0h1m1 0h1m1 0h1m6 0h2m1 0h4m3 0h1m1 0h1m2 0h1m10 0h1m4 0h3m2 0h1m1 0h1m1 0h1m5 0h1m2 0h1m3 0h1m8 0h1m1 0h1m7 0h1m4 0h1m3 0h1m7 0h2m1 0h1m2 0h1m5 0h1m6 0h3m1 0h2m4 0h1m6 0h1m3 0h1m18 0h2m8 0h1m1 0h1m3 0h1m6 0h1m1 0h1m6 0h1m2 0h1M190 127.5h1m2 0h11m1 0h11m3 0h1m1 0h1m8 0h2m2 0h1m6 0h1m2 0h4m3 0h1m3 0h1m4 0h1m6 0h1m2 0h1m3 0h1m15 0h1m3 0h2m5 0h1m4 0h2m5 0h1m5 0h1m3 0h1m3 0h1m7 0h3m1 0h1m1 0h1m3 0h1m3 0h1m2 0h1m4 0h1m11 0h2m1 0h1m1 0h1m6 0h1m10 0h1m5 0h1m2 0h1m1 0h1m4 0h1m1 0h2m6 0h1M189 128.5h1m1 0h4m1 0h12m1 0h1m1 0h1m1 0h1m1 0h1m1 0h2m2 0h2m14 0h1m1 0h1m7 0h2m7 0h1m1 0h1m1 0h1m3 0h1m1 0h2m17 0h1m1 0h1m3 0h1m1 0h1m5 0h1m6 0h2m6 0h3m10 0h1m14 0h1m1 0h1m5 0h2m1 0h1m4 0h2m1 0h3m1 0h2m14 0h1m10 0h2m8 0h3m2 0h1m3 0h3M192 129.5h8m2 0h3m1 0h2m1 0h4m1 0h1m2 0h1m9 0h1m1 0h1m4 0h1m5 0h1m2 0h1m2 0h1m1 0h3m10 0h1m1 0h2m2 0h1m27 0h1m7 0h1m6 0h1m3 0h1m2 0h1m2 0h1m6 0h1m1 0h3m2 0h2m1 0h1m3 0h1m1 0h1m1 0h1m9 0h1m21 0h1m8 0h1m1 0h1m3 0h1m2 0h2m2 0h1m6 0h1m2 0h2m5 0h1M189 130.5h1m1 0h1m2 0h6m1 0h4m1 0h3m1 0h1m3 0h1m1 0h4m1 0h1m5 0h1m1 0h3m3 0h1m3 0h1m4 0h1m3 0h1m13 0h1m2 0h1m4 0h1m7 0h1m5 0h1m7 0h1m2 0h1m3 0h1m1 0h4m5 0h1m1 0h1m3 0h1m2 0h1m3 0h1m2 0h1m5 0h1m4 0h2m4 0h1m5 0h1m1 0h1m7 0h2m6 0h1m2 0h1m14 0h1m3 0h1m2 0h1m10 0h1m8 0h2m2 0h1m1 0h1M191 131.5h26m1 0h1m1 0h1m2 0h1m2 0h1m4 0h1m8 0h1m1 0h3m2 0h1m1 0h1m4 0h1m2 0h6m1 0h1m8 0h1m9 0h3m1 0h1m3 0h1m3 0h1m2 0h1m7 0h1m2 0h1m1 0h2m1 0h1m8 0h1m3 0h1m1 0h1m5 0h1m1 0h1m2 0h1m1 0h1m2 0h1m2 0h1m1 0h1m10 0h1m15 0h1m3 0h1m1 0h1m1 0h1m6 0h3m9 0h2m6 0h1m5 0h1M190 132.5h1m2 0h9m1 0h1m1 0h1m1 0h1m1 0h4m1 0h1m15 0h1m1 0h1m3 0h1m1 0h1m5 0h1m6 0h1m2 0h6m11 0h1m4 0h2m6 0h2m3 0h1m3 0h2m5 0h1m3 0h1m2 0h1m1 0h2m3 0h1m7 0h2m1 0h1m2 0h1m1 0h1m1 0h1m2 0h1m1 0h1m2 0h1m1 0h1m1 0h3m2 0h2m4 0h1m15 0h1m15 0h1m2 0h1m3 0h1m2 0h3m3 0h1m1 0h1m1 0h1m2 0h1m2 0h1M192 133.5h6m1 0h3m1 0h8m1 0h1m1 0h2m1 0h1m2 0h3m6 0h1m2 0h1m2 0h1m9 0h2m1 0h2m2 0h1m2 0h1m1 0h1m3 0h1m6 0h2m1 0h1m3 0h3m4 0h1m4 0h1m2 0h1m5 0h1m1 0h1m1 0h3m3 0h2m3 0h2m1 0h1m9 0h1m3 0h1m1 0h1m1 0h1m2 0h1m4 0h1m1 0h1m5 0h1m8 0h1m12 0h1m3 0h1m10 0h2m4 0h1m5 0h1m1 0h1m2 0h1m1 0h1m2 0h1m2 0h1M191 134.5h10m1 0h5m1 0h1m1 0h3m1 0h1m1 0h3m1 0h2m3 0h2m4 0h1m2 0h2m4 0h1m4 0h1m4 0h1m2 0h1m4 0h2m5 0h1m2 0h1m4 0h1m1 0h1m1 0h1m3 0h1m1 0h1m1 0h1m6 0h1m21 0h1m1 0h2m1 0h1m4 0h1m2 0h2m2 0h7m3 0h1m1 0h2m5 0h2m16 0h1m2 0h1m3 0h2m2 0h1m1 0h1m2 0h1m16 0h1m1 0h1m2 0h1m12 0h1M189 135.5h1m1 0h9m1 0h1m1 0h11m5 0h1m6 0h2m5 0h2m1 0h2m4 0h1m1 0h1m2 0h1m5 0h1m5 0h2m4 0h2m3 0h1m11 0h1m2 0h1m3 0h1m4 0h4m3 0h3m2 0h1m2 0h1m4 0h1m3 0h2m1 0h1m3 0h2m1 0h2m5 0h4m1 0h1m5 0h2m1 0h1m3 0h1m3 0h1m1 0h1m9 0h1m2 0h1m2 0h2m6 0h2m4 0h1m2 0h1m2 0h1m7 0h1m5 0h1m3 0h1m1 0h1m3 0h1M189 136.5h1m1 0h4m1 0h1m4 0h12m1 0h4m2 0h5m2 0h2m2 0h2m1 0h1m1 0h1m2 0h2m6 0h1m1 0h2m2 0h1m2 0h1m2 0h1m2 0h3m22 0h1m4 0h1m5 0h2m4 0h1m2 0h1m9 0h1m8 0h1m1 0h1m2 0h1m1 0h1m1 0h1m1 0h1m4 0h2m7 0h1m1 0h2m4 0h1m3 0h3m1 0h3m1 0h1m11 0h1m1 0h3m2 0h1m7 0h1m8 0h1m5 0h1m3 0h2M191 137.5h2m1 0h3m1 0h15m1 0h4m1 0h2m4 0h1m1 0h4m1 0h1m2 0h1m1 0h1m3 0h1m2 0h1m1 0h1m2 0h3m3 0h1m3 0h1m22 0h2m1 0h1m1 0h1m2 0h2m1 0h1m2 0h1m3 0h1m1 0h1m1 0h1m7 0h1m3 0h1m1 0h1m3 0h1m6 0h1m3 0h1m4 0h1m3 0h1m1 0h1m11 0h1m2 0h1m10 0h1m1 0h1m2 0h1m2 0h1m7 0h1m2 0h1m22 0h1m4 0h2M190 138.5h11m1 0h1m1 0h14m1 0h3m2 0h1m3 0h1m6 0h1m2 0h2m5 0h3m3 0h2m2 0h1m2 0h1m4 0h1m6 0h1m1 0h1m1 0h2m3 0h1m13 0h1m4 0h1m2 0h2m1 0h2m2 0h2m6 0h1m2 0h1m1 0h3m8 0h1m1 0h2m7 0h1m5 0h1m2 0h1m9 0h1m1 0h1m1 0h3m2 0h2m5 0h1m5 0h1m3 0h2m3 0h1m3 0h2m3 0h1m2 0h2m9 0h1M189 139.5h1m1 0h1m1 0h3m1 0h2m1 0h3m2 0h5m1 0h6m1 0h1m1 0h1m1 0h1m3 0h2m2 0h1m1 0h1m3 0h4m2 0h1m2 0h1m6 0h1m1 0h3m1 0h2m9 0h1m1 0h1m7 0h1m2 0h1m1 0h2m4 0h1m4 0h1m1 0h2m1 0h1m1 0h1m3 0h1m1 0h1m1 0h1m1 0h4m1 0h1m1 0h1m5 0h3m2 0h1m4 0h1m1 0h2m8 0h3m3 0h1m3 0h1m6 0h2m1 0h1m9 0h2m2 0h2m1 0h1m4 0h2m4 0h1m4 0h2m6 0h1m3 0h1m1 0h1m4 0h1M189 140.5h4m1 0h4m2 0h6m1 0h2m1 0h1m2 0h1m1 0h2m2 0h2m1 0h2m4 0h1m1 0h3m3 0h1m3 0h1m1 0h3m3 0h1m2 0h2m4 0h1m1 0h1m2 0h1m2 0h2m4 0h1m1 0h1m2 0h2m12 0h3m4 0h2m4 0h2m3 0h2m1 0h2m1 0h3m1 0h2m5 0h2m3 0h1m2 0h1m1 0h2m1 0h1m1 0h2m1 0h1m1 0h3m1 0h1m1 0h1m7 0h1m3 0h1m1 0h1m1 0h1m4 0h1m10 0h1m12 0h1m4 0h1m8 0h1m5 0h3M190 141.5h4m1 0h3m1 0h7m2 0h5m2 0h3m4 0h2m2 0h1m6 0h1m2 0h1m2 0h1m11 0h1m1 0h1m1 0h1m4 0h3m8 0h1m8 0h1m4 0h1m2 0h3m8 0h2m7 0h1m1 0h1m1 0h1m13 0h1m4 0h1m1 0h2m1 0h2m2 0h1m2 0h8m4 0h4m4 0h1m1 0h1m1 0h2m1 0h3m1 0h1m3 0h1m7 0h2m3 0h1m2 0h1m2 0h1m2 0h1m9 0h2m1 0h2m1 0h1m2 0h1M193 142.5h5m1 0h9m1 0h4m4 0h1m1 0h1m2 0h1m3 0h1m5 0h2m2 0h1m2 0h1m3 0h1m1 0h2m1 0h4m7 0h1m2 0h3m4 0h1m9 0h1m1 0h2m1 0h1m7 0h2m5 0h1m6 0h1m1 0h1m2 0h1m2 0h2m2 0h1m1 0h1m2 0h2m1 0h1m1 0h2m1 0h1m3 0h3m4 0h1m1 0h2m2 0h2m11 0h2m5 0h1m1 0h1m1 0h2m5 0h1m6 0h1m3 0h1m5 0h1m1 0h1m8 0h1m2 0h1m7 0h1M189 143.5h2m1 0h4m1 0h1m3 0h2m1 0h9m1 0h1m1 0h3m1 0h1m1 0h1m5 0h1m2 0h1m6 0h1m5 0h1m4 0h2m1 0h1m2 0h1m6 0h1m1 0h1m1 0h2m3 0h1m7 0h1m3 0h2m2 0h1m2 0h1m3 0h1m4 0h2m2 0h1m3 0h1m1 0h2m1 0h1m1 0h2m1 0h2m6 0h1m1 0h1m1 0h6m3 0h4m1 0h1m1 0h1m3 0h1m1 0h1m1 0h3m1 0h1m2 0h1m1 0h1m1 0h2m4 0h5m1 0h1m2 0h1m3 0h1m2 0h1m2 0h2m6 0h3m3 0h3m1 0h1m5 0h1m1 0h1M191 144.5h3m1 0h3m1 0h22m3 0h1m1 0h1m2 0h3m3 0h1m5 0h1m1 0h1m1 0h1m1 0h1m1 0h1m1 0h1m5 0h1m2 0h1m9 0h2m2 0h2m6 0h3m3 0h1m1 0h1m10 0h2m7 0h1m1 0h1m1 0h2m2 0h2m1 0h1m1 0h1m1 0h1m1 0h1m1 0h1m1 0h2m3 0h1m5 0h4m2 0h2m1 0h2m1 0h1m4 0h2m1 0h4m1 0h3m1 0h1m1 0h1m1 0h1m1 0h1m2 0h1m1 0h2m3 0h3m4 0h1m3 0h1m1 0h1m2 0h1m4 0h3M190 145.5h1m1 0h2m1 0h20m2 0h4m9 0h1m6 0h1m11 0h2m2 0h1m3 0h1m6 0h2m9 0h1m8 0h2m4 0h1m1 0h2m1 0h1m5 0h1m1 0h5m5 0h1m1 0h1m1 0h2m5 0h3m1 0h2m1 0h3m2 0h1m1 0h1m4 0h2m1 0h1m4 0h3m3 0h1m1 0h1m2 0h1m4 0h4m13 0h2m3 0h1m8 0h1m2 0h1m1 0h1m2 0h2m5 0h1m1 0h1m2 0h1M189 146.5h1m1 0h8m1 0h5m1 0h1m1 0h1m1 0h1m3 0h5m1 0h2m1 0h1m1 0h3m1 0h1m1 0h1m3 0h1m6 0h3m12 0h1m11 0h1m12 0h1m7 0h1m2 0h1m1 0h2m6 0h1m2 0h1m3 0h2m1 0h1m7 0h4m1 0h3m2 0h2m1 0h1m2 0h3m1 0h1m1 0h3m1 0h2m3 0h2m1 0h2m3 0h1m2 0h4m1 0h1m4 0h1m1 0h3m1 0h1m2 0h1m1 0h1m5 0h1m4 0h1m3 0h1m3 0h1m5 0h1m2 0h1M192 147.5h2m2 0h22m4 0h1m5 0h5m1 0h1m4 0h1m1 0h2m1 0h1m4 0h3m3 0h4m15 0h1m9 0h1m2 0h1m13 0h1m5 0h2m2 0h5m2 0h4m1 0h4m1 0h2m1 0h4m2 0h1m1 0h1m1 0h4m1 0h8m5 0h2m1 0h1m1 0h2m1 0h1m2 0h2m2 0h1m10 0h1m3 0h1m1 0h3m8 0h1m3 0h1m4 0h1m1 0h2M189 148.5h1m2 0h2m2 0h8m1 0h13m2 0h1m11 0h2m2 0h2m2 0h1m12 0h1m4 0h3m7 0h1m1 0h1m4 0h1m5 0h1m1 0h1m8 0h1m4 0h1m1 0h1m3 0h1m3 0h1m1 0h1m3 0h7m1 0h1m2 0h5m1 0h1m2 0h3m2 0h4m2 0h2m2 0h3m1 0h2m1 0h1m1 0h1m1 0h2m1 0h1m5 0h4m1 0h1m4 0h1m7 0h1m5 0h2m2 0h1m4 0h1m13 0h1M191 149.5h4m1 0h22m1 0h1m5 0h1m2 0h1m1 0h2m1 0h1m5 0h1m4 0h1m1 0h1m8 0h1m2 0h1m6 0h1m4 0h1m1 0h2m1 0h1m7 0h2m2 0h1m1 0h3m1 0h3m4 0h2m3 0h1m4 0h2m3 0h1m1 0h2m1 0h3m3 0h2m1 0h4m1 0h3m1 0h2m3 0h4m1 0h3m1 0h1m1 0h2m1 0h3m2 0h3m2 0h2m1 0h1m1 0h1m3 0h2m8 0h1m1 0h1m5 0h1m2 0h2m1 0h1m2 0h1m7 0h1M190 150.5h1m1 0h1m1 0h1m1 0h9m1 0h2m2 0h6m1 0h1m2 0h1m4 0h1m2 0h1m1 0h2m6 0h2m1 0h1m3 0h1m4 0h1m5 0h1m2 0h2m4 0h1m1 0h1m1 0h1m4 0h1m2 0h2m7 0h1m5 0h1m2 0h2m6 0h2m1 0h3m1 0h2m3 0h1m1 0h2m1 0h5m1 0h1m4 0h2m1 0h4m2 0h1m1 0h1m2 0h1m1 0h1m1 0h1m1 0h3m1 0h1m2 0h2m1 0h1m3 0h1m4 0h1m1 0h3m5 0h1m1 0h1m1 0h1m1 0h1m2 0h1m1 0h1m1 0h2m1 0h1m8 0h1m6 0h2M189 151.5h2m1 0h17m1 0h1m1 0h2m1 0h5m1 0h2m2 0h1m8 0h1m4 0h3m2 0h2m2 0h1m5 0h1m9 0h1m6 0h1m2 0h1m3 0h3m1 0h1m1 0h1m1 0h1m8 0h1m1 0h1m2 0h1m3 0h3m3 0h3m2 0h3m3 0h1m1 0h1m1 0h1m1 0h1m2 0h1m1 0h1m7 0h1m1 0h1m2 0h1m2 0h1m1 0h5m1 0h3m2 0h2m5 0h4m2 0h1m1 0h1m3 0h1m11 0h1m7 0h1m13 0h1M189 152.5h2m1 0h8m1 0h1m1 0h8m1 0h7m1 0h1m6 0h1m6 0h1m1 0h1m2 0h1m1 0h1m1 0h1m2 0h4m3 0h1m1 0h1m1 0h2m5 0h2m1 0h1m1 0h1m2 0h1m2 0h1m1 0h3m2 0h1m4 0h1m3 0h3m6 0h1m1 0h2m1 0h1m2 0h1m1 0h2m1 0h1m1 0h3m3 0h3m1 0h3m2 0h1m2 0h2m1 0h4m1 0h3m1 0h2m2 0h2m1 0h3m2 0h1m2 0h1m1 0h2m1 0h1m1 0h4m1 0h1m1 0h1m1 0h3m1 0h3m2 0h1m1 0h1m4 0h2m1 0h1m3 0h1m1 0h1m1 0h1m3 0h1m11 0h1M192 153.5h6m1 0h11m1 0h3m1 0h1m1 0h1m3 0h2m3 0h1m2 0h1m5 0h1m1 0h1m3 0h2m1 0h1m2 0h1m4 0h2m3 0h1m12 0h1m6 0h1m6 0h1m1 0h1m5 0h1m6 0h1m2 0h1m1 0h1m2 0h1m1 0h1m3 0h3m4 0h1m1 0h3m2 0h1m1 0h3m1 0h1m1 0h2m1 0h1m2 0h2m2 0h3m1 0h2m2 0h1m1 0h2m1 0h1m1 0h11m1 0h1m2 0h1m1 0h2m1 0h2m16 0h1m2 0h2m5 0h1m2 0h1m1 0h1M190 154.5h1m4 0h9m1 0h2m1 0h6m1 0h2m3 0h2m4 0h2m3 0h1m1 0h1m5 0h1m7 0h1m1 0h1m5 0h3m3 0h2m10 0h1m5 0h1m1 0h1m3 0h2m7 0h1m2 0h1m2 0h1m2 0h1m3 0h2m1 0h5m1 0h1m2 0h10m1 0h2m1 0h4m1 0h2m1 0h6m1 0h1m1 0h2m3 0h1m1 0h7m1 0h4m1 0h2m1 0h1m4 0h1m1 0h2m8 0h1m7 0h1m3 0h1m1 0h3m4 0h2m1 0h1m3 0h1M190 155.5h2m1 0h3m1 0h3m1 0h6m2 0h3m1 0h2m1 0h4m4 0h1m5 0h1m1 0h4m1 0h1m1 0h1m2 0h1m5 0h1m4 0h1m2 0h1m1 0h1m7 0h1m4 0h1m3 0h1m2 0h1m2 0h1m4 0h1m3 0h1m2 0h1m3 0h1m1 0h1m2 0h1m2 0h1m2 0h1m1 0h1m2 0h2m1 0h2m1 0h4m1 0h1m2 0h5m1 0h3m1 0h1m1 0h1m3 0h1m2 0h2m2 0h1m2 0h2m1 0h2m1 0h2m1 0h1m2 0h7m2 0h6m21 0h1m3 0h1m8 0h2m1 0h1M190 156.5h2m2 0h1m1 0h6m1 0h4m1 0h7m1 0h1m1 0h1m1 0h4m1 0h1m5 0h1m4 0h4m3 0h1m4 0h1m2 0h2m2 0h1m1 0h1m2 0h1m1 0h1m10 0h1m13 0h1m4 0h1m6 0h1m1 0h1m2 0h4m1 0h3m1 0h2m3 0h1m1 0h6m4 0h1m1 0h1m2 0h4m2 0h1m2 0h2m2 0h1m1 0h2m2 0h2m1 0h2m1 0h4m3 0h3m2 0h3m1 0h1m4 0h2m7 0h1m9 0h1m2 0h1m3 0h1m2 0h1M189 157.5h1m1 0h2m1 0h3m1 0h20m3 0h2m1 0h1m1 0h2m1 0h2m2 0h1m3 0h1m3 0h3m4 0h2m1 0h2m11 0h1m8 0h3m1 0h2m6 0h1m4 0h1m1 0h1m5 0h3m1 0h1m2 0h2m1 0h3m1 0h5m1 0h3m1 0h2m3 0h1m2 0h2m1 0h1m2 0h3m1 0h1m1 0h8m1 0h3m1 0h1m2 0h1m2 0h3m2 0h5m2 0h2m1 0h1m1 0h1m5 0h1m1 0h1m1 0h1m3 0h3m1 0h3m1 0h1m3 0h1m2 0h1m4 0h3M189 158.5h3m1 0h13m2 0h8m1 0h2m2 0h2m1 0h3m2 0h1m5 0h1m6 0h4m3 0h1m1 0h2m3 0h1m3 0h1m2 0h1m2 0h1m1 0h1m1 0h3m1 0h1m3 0h1m7 0h1m1 0h1m2 0h1m1 0h1m1 0h1m1 0h1m1 0h1m2 0h3m1 0h1m1 0h1m1 0h5m1 0h2m1 0h2m1 0h3m5 0h12m1 0h3m2 0h2m1 0h2m1 0h1m2 0h1m1 0h1m4 0h2m4 0h3m1 0h1m1 0h1m5 0h1m1 0h1m22 0h1m5 0h2m2 0h1M192 159.5h7m1 0h5m1 0h1m1 0h2m1 0h5m2 0h1m2 0h1m2 0h1m1 0h2m3 0h1m5 0h1m2 0h2m10 0h1m1 0h1m2 0h2m5 0h1m5 0h1m1 0h1m1 0h1m8 0h1m2 0h2m1 0h2m3 0h2m5 0h4m2 0h2m2 0h7m2 0h8m1 0h2m1 0h6m1 0h3m1 0h2m2 0h2m1 0h2m1 0h6m1 0h1m2 0h6m1 0h1m1 0h2m2 0h2m1 0h1m14 0h1m1 0h1m4 0h1m14 0h1M189 160.5h19m1 0h6m2 0h1m1 0h1m2 0h1m4 0h2m2 0h1m3 0h1m2 0h1m2 0h5m2 0h1m1 0h1m2 0h1m1 0h1m1 0h1m2 0h2m4 0h1m6 0h1m1 0h1m2 0h1m4 0h2m4 0h1m1 0h1m6 0h2m1 0h2m1 0h2m1 0h1m1 0h2m1 0h2m1 0h4m1 0h3m1 0h12m2 0h2m1 0h6m2 0h1m3 0h1m1 0h2m2 0h2m1 0h2m1 0h4m1 0h5m4 0h1m3 0h1m3 0h1m4 0h1m5 0h1m4 0h1m2 0h1m4 0h1m6 0h1M190 161.5h4m1 0h15m1 0h2m1 0h4m1 0h2m4 0h1m5 0h2m1 0h1m3 0h1m2 0h1m4 0h1m4 0h1m4 0h1m3 0h2m1 0h1m5 0h1m4 0h1m1 0h1m3 0h1m4 0h2m1 0h3m1 0h1m1 0h1m1 0h1m3 0h5m1 0h2m1 0h1m1 0h2m2 0h2m1 0h1m1 0h16m1 0h1m1 0h3m2 0h4m1 0h2m5 0h1m2 0h1m1 0h1m1 0h1m1 0h1m1 0h1m1 0h2m1 0h2m1 0h1m3 0h2m10 0h1m7 0h1m2 0h1m2 0h1m1 0h1m10 0h1M190 162.5h1m2 0h6m1 0h4m2 0h1m2 0h3m1 0h3m3 0h1m1 0h3m1 0h1m2 0h2m1 0h1m3 0h2m7 0h1m6 0h1m4 0h2m2 0h1m2 0h1m6 0h1m3 0h2m1 0h1m2 0h3m6 0h2m4 0h1m1 0h1m4 0h2m1 0h3m3 0h1m1 0h2m2 0h1m1 0h16m1 0h15m1 0h3m1 0h1m7 0h2m1 0h2m1 0h3m1 0h2m2 0h3m1 0h1m2 0h1m3 0h1m6 0h1m5 0h1m6 0h1m1 0h1m2 0h1m1 0h1M189 163.5h2m1 0h2m1 0h7m1 0h1m1 0h5m1 0h2m1 0h1m1 0h1m2 0h1m1 0h2m2 0h2m1 0h1m1 0h1m3 0h1m1 0h3m5 0h1m1 0h1m2 0h2m2 0h3m17 0h3m2 0h5m2 0h1m2 0h2m5 0h1m1 0h1m3 0h4m2 0h4m2 0h4m2 0h2m1 0h18m1 0h2m3 0h2m3 0h1m2 0h2m1 0h1m1 0h1m1 0h6m2 0h3m1 0h1m2 0h2m1 0h1m1 0h2m2 0h1m5 0h1m1 0h1m7 0h1m9 0h1m1 0h1M189 164.5h2m2 0h4m1 0h1m2 0h4m1 0h5m2 0h3m1 0h1m2 0h1m4 0h1m2 0h1m5 0h1m4 0h2m4 0h3m2 0h1m3 0h1m3 0h1m5 0h2m4 0h1m1 0h2m7 0h1m4 0h1m2 0h2m2 0h1m2 0h2m2 0h1m2 0h7m1 0h2m1 0h8m1 0h1m1 0h4m1 0h2m1 0h6m1 0h5m1 0h1m2 0h4m1 0h1m1 0h1m3 0h1m1 0h1m1 0h6m3 0h4m3 0h3m1 0h1m17 0h1m15 0h1M190 165.5h2m1 0h8m2 0h11m1 0h2m3 0h2m2 0h1m2 0h6m2 0h2m1 0h2m2 0h1m2 0h1m4 0h4m1 0h1m3 0h1m1 0h1m2 0h1m2 0h1m3 0h3m4 0h1m3 0h1m1 0h1m2 0h2m1 0h1m1 0h1m2 0h1m1 0h4m1 0h2m1 0h6m1 0h7m2 0h2m1 0h12m1 0h1m1 0h1m1 0h5m2 0h4m1 0h1m2 0h1m2 0h5m2 0h1m2 0h1m1 0h5m1 0h2m5 0h1m19 0h1m1 0h1m3 0h1m2 0h2m3 0h1M189 166.5h13m1 0h15m5 0h1m4 0h2m2 0h1m1 0h1m1 0h1m3 0h1m3 0h1m1 0h1m1 0h1m1 0h2m2 0h1m1 0h1m7 0h1m1 0h2m2 0h2m16 0h1m2 0h1m6 0h3m1 0h3m1 0h1m1 0h17m1 0h16m1 0h1m1 0h3m2 0h1m1 0h1m2 0h3m3 0h1m4 0h1m2 0h4m1 0h2m2 0h1m2 0h1m1 0h1m4 0h1m2 0h1m11 0h2m5 0h1m1 0h1m5 0h1M190 167.5h3m1 0h1m1 0h7m1 0h11m1 0h1m1 0h5m5 0h1m5 0h1m2 0h1m6 0h2m5 0h1m4 0h1m3 0h1m3 0h3m2 0h1m3 0h1m2 0h2m6 0h1m2 0h2m3 0h1m4 0h12m1 0h3m1 0h3m1 0h3m1 0h1m1 0h4m1 0h8m1 0h5m1 0h5m2 0h1m1 0h3m2 0h2m1 0h3m1 0h3m3 0h5m1 0h1m1 0h2m1 0h2m1 0h1m5 0h1m2 0h1m21 0h1M189 168.5h1m1 0h2m1 0h2m1 0h3m1 0h6m1 0h9m3 0h2m2 0h1m9 0h1m1 0h2m3 0h1m9 0h1m1 0h1m1 0h2m1 0h3m2 0h3m2 0h1m1 0h1m3 0h1m3 0h1m6 0h2m2 0h1m1 0h5m1 0h2m2 0h3m1 0h6m1 0h24m1 0h2m1 0h2m3 0h1m1 0h4m2 0h4m2 0h1m1 0h4m2 0h6m2 0h1m1 0h1m2 0h2m2 0h2m13 0h1m2 0h2m8 0h1m4 0h2M189 169.5h12m1 0h6m1 0h2m2 0h2m2 0h1m3 0h6m5 0h1m1 0h1m3 0h3m5 0h1m1 0h1m3 0h1m2 0h1m9 0h2m3 0h2m2 0h3m3 0h1m12 0h1m1 0h4m1 0h8m1 0h3m1 0h3m2 0h1m1 0h7m1 0h6m1 0h3m1 0h3m1 0h5m1 0h6m1 0h1m1 0h1m1 0h1m2 0h3m3 0h1m1 0h1m1 0h1m1 0h1m1 0h3m1 0h3m2 0h1m7 0h1m8 0h2m2 0h1m1 0h1m3 0h1m4 0h1M189 170.5h1m2 0h11m1 0h5m1 0h8m2 0h1m1 0h2m6 0h1m1 0h1m1 0h1m6 0h2m1 0h2m1 0h1m1 0h3m1 0h2m1 0h1m7 0h1m2 0h1m3 0h2m2 0h1m2 0h2m1 0h1m3 0h3m6 0h1m4 0h12m1 0h24m1 0h11m2 0h5m1 0h1m2 0h3m2 0h2m3 0h3m1 0h8m1 0h1m1 0h1m1 0h1m5 0h1m10 0h1m2 0h1m6 0h1m2 0h4M189 171.5h2m1 0h6m1 0h12m2 0h3m1 0h3m2 0h1m6 0h1m2 0h1m5 0h1m4 0h1m1 0h2m1 0h1m3 0h2m6 0h2m2 0h1m4 0h1m1 0h1m13 0h1m1 0h1m1 0h18m1 0h8m2 0h7m1 0h4m1 0h18m1 0h3m2 0h1m2 0h3m4 0h1m2 0h5m1 0h1m1 0h2m1 0h1m3 0h1m7 0h1m2 0h1m1 0h1m2 0h1m2 0h2m8 0h1m2 0h2M192 172.5h10m1 0h7m1 0h1m1 0h6m3 0h1m10 0h2m1 0h1m2 0h4m8 0h1m9 0h1m7 0h1m3 0h1m6 0h4m1 0h1m5 0h5m1 0h12m1 0h9m3 0h8m3 0h9m1 0h2m1 0h4m1 0h2m1 0h2m2 0h1m2 0h1m2 0h1m2 0h2m1 0h1m2 0h3m1 0h2m1 0h4m6 0h1m3 0h1m16 0h1m6 0h1M190 173.5h1m1 0h18m1 0h1m1 0h1m1 0h1m1 0h1m2 0h2m1 0h1m1 0h1m10 0h1m1 0h1m8 0h1m10 0h1m2 0h2m5 0h1m2 0h2m3 0h1m8 0h1m2 0h1m1 0h37m1 0h1m1 0h3m1 0h14m2 0h3m2 0h7m2 0h6m3 0h2m2 0h2m18 0h2m5 0h1m4 0h1m7 0h1M189 174.5h1m1 0h1m1 0h6m1 0h1m1 0h3m3 0h6m2 0h1m4 0h1m1 0h2m1 0h1m4 0h1m1 0h1m4 0h4m6 0h1m1 0h1m1 0h1m3 0h1m5 0h1m1 0h2m3 0h2m6 0h1m2 0h3m2 0h9m1 0h1m1 0h16m1 0h18m1 0h3m1 0h7m1 0h1m1 0h7m1 0h3m2 0h1m1 0h1m2 0h5m4 0h4m1 0h3m1 0h2m3 0h1m2 0h1m5 0h1m8 0h2M190 175.5h1m1 0h4m2 0h6m1 0h3m1 0h8m1 0h1m1 0h1m3 0h1m1 0h1m1 0h1m1 0h2m9 0h1m11 0h1m2 0h1m3 0h1m1 0h2m8 0h1m6 0h1m1 0h10m1 0h52m1 0h5m1 0h6m2 0h4m1 0h1m1 0h1m4 0h1m2 0h3m1 0h1m1 0h1m9 0h1m4 0h1m17 0h1M189 176.5h1m2 0h3m1 0h3m1 0h9m1 0h7m1 0h1m1 0h1m1 0h1m3 0h1m1 0h2m5 0h1m1 0h2m1 0h1m3 0h1m1 0h1m2 0h1m3 0h1m15 0h1m9 0h1m1 0h1m1 0h1m1 0h32m1 0h3m1 0h1m2 0h17m1 0h3m3 0h2m1 0h1m1 0h1m1 0h1m1 0h2m1 0h1m1 0h2m2 0h1m3 0h2m2 0h2m2 0h1m7 0h2m2 0h1m7 0h2m13 0h2M189 177.5h1m2 0h7m2 0h4m1 0h2m1 0h1m1 0h1m1 0h9m6 0h1m2 0h1m1 0h1m1 0h1m1 0h1m1 0h1m5 0h1m4 0h1m4 0h2m2 0h2m2 0h2m1 0h3m4 0h1m2 0h6m1 0h34m1 0h5m1 0h4m1 0h1m1 0h1m1 0h1m1 0h1m1 0h12m4 0h2m2 0h1m2 0h1m1 0h1m1 0h1m1 0h1m2 0h1m1 0h2m2 0h1m1 0h1m1 0h2m3 0h1m1 0h1m3 0h1m7 0h1m5 0h1m1 0h1m11 0h1M189 178.5h1m1 0h1m2 0h18m1 0h4m1 0h3m5 0h1m1 0h1m3 0h1m9 0h1m3 0h2m2 0h1m2 0h1m1 0h2m5 0h1m5 0h1m2 0h1m8 0h5m1 0h2m1 0h39m1 0h4m2 0h5m1 0h8m1 0h1m2 0h2m4 0h1m4 0h3m2 0h1m3 0h4m1 0h2m2 0h1m1 0h2m1 0h1m21 0h1M189 179.5h4m3 0h19m1 0h4m8 0h1m1 0h3m1 0h1m1 0h1m1 0h6m1 0h2m3 0h1m1 0h1m1 0h1m1 0h1m2 0h4m2 0h1m1 0h3m4 0h1m2 0h2m2 0h4m1 0h33m1 0h11m1 0h1m2 0h3m2 0h1m1 0h8m1 0h2m3 0h1m1 0h1m1 0h3m1 0h2m1 0h7m1 0h3m1 0h2m1 0h1m1 0h1m2 0h1m3 0h1m4 0h1m2 0h1m1 0h1m12 0h1M189 180.5h1m1 0h1m1 0h10m1 0h1m1 0h13m5 0h1m1 0h1m1 0h1m2 0h4m1 0h1m1 0h1m1 0h2m2 0h1m7 0h1m5 0h1m1 0h1m6 0h2m2 0h1m5 0h1m1 0h7m1 0h8m1 0h19m1 0h1m1 0h4m1 0h4m3 0h6m1 0h2m1 0h6m1 0h2m1 0h1m1 0h8m4 0h3m2 0h2m2 0h1m1 0h3m2 0h1m1 0h2m2 0h1m1 0h2m6 0h1m9 0h2M190 181.5h5m1 0h2m1 0h4m1 0h2m1 0h8m1 0h1m1 0h1m1 0h2m3 0h2m3 0h3m4 0h2m5 0h1m1 0h1m2 0h1m1 0h1m1 0h6m1 0h1m1 0h3m4 0h1m5 0h1m1 0h1m2 0h3m1 0h31m1 0h6m1 0h7m1 0h8m1 0h9m1 0h3m1 0h1m2 0h2m1 0h1m1 0h12m2 0h1m1 0h1m2 0h1m2 0h1m14 0h1m4 0h1m11 0h1M189 182.5h1m2 0h1m1 0h2m1 0h17m1 0h4m3 0h1m1 0h2m4 0h1m1 0h4m3 0h2m2 0h1m4 0h1m3 0h1m2 0h1m1 0h1m1 0h1m1 0h1m5 0h1m1 0h1m2 0h1m1 0h2m1 0h1m1 0h1m1 0h43m1 0h1m3 0h7m1 0h1m2 0h6m1 0h1m3 0h2m5 0h2m4 0h1m1 0h4m1 0h2m1 0h2m6 0h1m2 0h1m8 0h1M192 183.5h7m1 0h2m1 0h1m1 0h5m1 0h1m1 0h5m1 0h1m6 0h1m2 0h1m9 0h1m1 0h1m1 0h2m1 0h2m6 0h3m9 0h5m2 0h4m1 0h3m1 0h45m1 0h12m1 0h7m2 0h1m4 0h3m5 0h4m2 0h4m1 0h1m7 0h1m2 0h1m6 0h1m1 0h1m6 0h1m4 0h1M190 184.5h1m2 0h5m1 0h4m1 0h3m1 0h9m2 0h1m1 0h1m13 0h2m2 0h1m1 0h1m10 0h3m1 0h1m2 0h1m6 0h1m1 0h2m1 0h1m3 0h4m1 0h48m1 0h3m1 0h1m1 0h3m3 0h4m2 0h1m1 0h1m1 0h1m1 0h3m1 0h3m1 0h1m3 0h1m7 0h1m5 0h1m1 0h1m1 0h1m9 0h1m3 0h1m9 0h1m1 0h2m7 0h2M191 185.5h2m1 0h7m1 0h10m2 0h3m1 0h4m1 0h1m4 0h2m1 0h1m3 0h1m2 0h1m2 0h2m2 0h1m3 0h2m1 0h1m1 0h1m2 0h1m1 0h1m5 0h1m2 0h1m3 0h5m1 0h44m1 0h6m1 0h11m1 0h2m1 0h3m1 0h2m2 0h1m1 0h1m2 0h1m3 0h2m2 0h1m1 0h1m1 0h2m1 0h1m6 0h1m16 0h1m2 0h1m7 0h1m2 0h1m6 0h1M189 186.5h3m2 0h10m1 0h2m2 0h4m1 0h2m1 0h2m1 0h2m4 0h1m7 0h2m1 0h1m2 0h3m2 0h1m2 0h1m2 0h1m3 0h1m5 0h1m1 0h2m3 0h3m1 0h4m1 0h44m1 0h2m1 0h13m1 0h1m1 0h11m2 0h6m1 0h1m2 0h2m3 0h1m2 0h4m3 0h2m6 0h1m6 0h1m3 0h1M190 187.5h11m1 0h1m3 0h3m2 0h6m6 0h1m3 0h1m4 0h1m4 0h3m3 0h1m2 0h1m3 0h1m1 0h1m1 0h2m5 0h1m4 0h18m1 0h38m1 0h4m1 0h6m1 0h13m3 0h1m1 0h3m2 0h1m4 0h1m1 0h3m1 0h4m2 0h2m5 0h1m19 0h1m6 0h1m1 0h1m5 0h1M189 188.5h1m1 0h2m1 0h5m1 0h7m1 0h4m1 0h2m1 0h2m4 0h2m1 0h3m2 0h3m1 0h1m10 0h1m2 0h1m3 0h1m1 0h2m1 0h1m2 0h1m2 0h2m1 0h4m1 0h24m1 0h42m1 0h6m1 0h1m1 0h1m2 0h3m1 0h7m2 0h3m2 0h1m2 0h2m5 0h1m1 0h1m5 0h1m2 0h1m1 0h1m4 0h1M189 189.5h2m1 0h2m1 0h1m1 0h5m1 0h2m2 0h6m1 0h4m1 0h1m1 0h2m5 0h1m1 0h1m4 0h1m8 0h1m2 0h1m1 0h1m2 0h2m1 0h1m3 0h1m4 0h2m1 0h1m1 0h6m1 0h45m1 0h9m4 0h8m1 0h1m1 0h1m1 0h5m3 0h2m2 0h1m3 0h2m1 0h1m2 0h1m1 0h1m1 0h1m3 0h1m12 0h1m1 0h1m2 0h1m4 0h3m4 0h3M189 190.5h2m2 0h8m1 0h14m1 0h5m5 0h1m3 0h3m6 0h1m5 0h1m13 0h1m2 0h3m1 0h1m1 0h1m1 0h46m1 0h4m1 0h13m1 0h4m2 0h3m6 0h1m1 0h2m1 0h2m1 0h2m3 0h5m1 0h1m1 0h1m4 0h1m5 0h1m1 0h1m8 0h2m18 0h1m2 0h1M189 191.5h1m2 0h17m1 0h1m1 0h1m1 0h7m6 0h1m6 0h1m2 0h1m1 0h2m3 0h2m1 0h1m1 0h1m1 0h1m4 0h1m2 0h5m1 0h7m1 0h45m1 0h3m1 0h1m1 0h3m4 0h11m1 0h4m2 0h1m1 0h2m1 0h12m1 0h2m2 0h1m3 0h1m6 0h1m8 0h1m10 0h1m5 0h2m1 0h1m3 0h1M189 192.5h1m1 0h9m1 0h16m1 0h1m9 0h1m1 0h3m1 0h1m1 0h1m1 0h1m2 0h1m9 0h1m5 0h1m1 0h2m1 0h2m3 0h70m2 0h4m1 0h3m1 0h1m1 0h3m2 0h5m1 0h3m2 0h2m2 0h2m1 0h1m8 0h1m10 0h1m11 0h1m7 0h1M189 193.5h1m2 0h8m1 0h5m1 0h7m1 0h1m1 0h1m6 0h2m2 0h1m1 0h1m1 0h2m2 0h2m2 0h3m1 0h1m6 0h1m5 0h2m1 0h4m1 0h55m1 0h8m1 0h7m1 0h3m1 0h2m2 0h1m1 0h2m1 0h3m2 0h1m2 0h2m5 0h2m1 0h3m3 0h2m2 0h1m3 0h1m25 0h1m7 0h1M189 194.5h8m1 0h3m1 0h6m1 0h2m3 0h1m1 0h2m1 0h1m1 0h2m1 0h1m2 0h2m1 0h1m1 0h1m4 0h1m1 0h1m2 0h2m3 0h1m2 0h1m4 0h1m1 0h2m1 0h73m1 0h1m1 0h8m1 0h4m1 0h1m1 0h4m2 0h3m1 0h3m1 0h1m3 0h1m4 0h1m9 0h1m7 0h1m10 0h1m5 0h1m1 0h4M189 195.5h2m1 0h1m1 0h11m1 0h6m1 0h5m2 0h3m3 0h1m2 0h2m3 0h2m1 0h1m6 0h4m1 0h1m3 0h5m1 0h74m1 0h4m1 0h4m1 0h3m3 0h1m1 0h4m1 0h3m2 0h1m1 0h2m2 0h2m1 0h2m6 0h1m6 0h1m28 0h1M191 196.5h2m1 0h9m1 0h1m1 0h1m1 0h9m1 0h2m4 0h1m3 0h2m5 0h1m1 0h3m2 0h2m1 0h1m2 0h2m1 0h1m2 0h64m1 0h10m1 0h7m4 0h2m1 0h4m3 0h2m4 0h1m1 0h2m3 0h2m2 0h3m1 0h2m1 0h1m3 0h2m11 0h1m2 0h1m7 0h2m3 0h1m7 0h1M189 197.5h1m1 0h3m3 0h5m1 0h3m1 0h2m1 0h1m2 0h1m1 0h3m9 0h3m1 0h2m4 0h2m4 0h1m1 0h1m5 0h1m2 0h3m1 0h69m1 0h2m1 0h4m1 0h5m2 0h1m2 0h1m3 0h3m1 0h3m1 0h2m1 0h1m2 0h6m1 0h2m1 0h1m4 0h1m1 0h1m4 0h2m5 0h1m21 0h1M190 198.5h14m1 0h2m1 0h10m1 0h2m2 0h1m5 0h2m1 0h2m1 0h1m3 0h1m4 0h1m3 0h1m1 0h71m1 0h9m2 0h2m1 0h3m1 0h3m3 0h1m5 0h2m2 0h2m3 0h4m1 0h1m1 0h2m3 0h1m2 0h1m14 0h1m3 0h1m5 0h1m12 0h1m3 0h1M190 199.5h5m1 0h5m1 0h6m1 0h3m1 0h1m1 0h1m1 0h1m1 0h2m3 0h2m1 0h1m4 0h1m3 0h2m5 0h1m2 0h1m2 0h1m2 0h1m1 0h1m1 0h62m1 0h14m2 0h1m1 0h3m2 0h1m1 0h3m3 0h1m3 0h2m2 0h1m1 0h1m3 0h3m2 0h2m1 0h3m2 0h1m28 0h1M192 200.5h6m2 0h1m1 0h2m1 0h5m2 0h6m13 0h1m4 0h1m2 0h2m2 0h2m1 0h5m1 0h67m2 0h10m1 0h3m1 0h3m1 0h5m1 0h1m2 0h1m1 0h2m1 0h3m1 0h9m5 0h1m33 0h1m2 0h1m8 0h1M189 201.5h5m1 0h11m1 0h6m2 0h1m1 0h4m2 0h1m3 0h1m1 0h5m1 0h1m4 0h1m2 0h1m2 0h1m1 0h74m1 0h9m2 0h1m1 0h4m2 0h1m1 0h1m2 0h1m2 0h1m1 0h1m1 0h2m2 0h2m1 0h3m2 0h1m2 0h3m1 0h1m9 0h3m4 0h2m8 0h1m1 0h2m10 0h2m2 0h1M189 202.5h1m1 0h1m1 0h3m1 0h3m1 0h15m1 0h2m1 0h4m1 0h1m1 0h1m1 0h1m1 0h1m4 0h2m5 0h79m1 0h1m1 0h6m2 0h1m3 0h1m1 0h2m1 0h4m1 0h1m1 0h5m2 0h4m1 0h1m2 0h1m1 0h1m1 0h1m2 0h1m15 0h1m1 0h2m2 0h1m1 0h1m6 0h1m1 0h1m6 0h3M191 203.5h2m1 0h1m2 0h4m1 0h10m1 0h6m2 0h3m1 0h1m8 0h1m2 0h1m1 0h1m4 0h1m1 0h3m1 0h66m2 0h4m3 0h2m1 0h2m1 0h1m1 0h2m2 0h1m1 0h5m2 0h4m4 0h4m2 0h5m2 0h1m4 0h1m4 0h1m8 0h1m8 0h1m13 0h1m2 0h1m5 0h1M192 204.5h5m3 0h3m1 0h2m1 0h8m1 0h2m7 0h1m4 0h5m1 0h1m1 0h1m1 0h4m1 0h73m1 0h2m1 0h3m3 0h7m1 0h3m1 0h2m1 0h3m1 0h1m1 0h1m2 0h1m2 0h1m1 0h1m2 0h1m3 0h3m2 0h1m12 0h1m11 0h1m6 0h1m2 0h1M189 205.5h1m3 0h4m1 0h4m1 0h4m3 0h3m1 0h2m1 0h1m4 0h2m4 0h1m2 0h5m2 0h5m2 0h58m1 0h21m3 0h4m2 0h2m1 0h2m1 0h5m1 0h3m1 0h1m1 0h8m5 0h1m4 0h1m9 0h1m12 0h1m2 0h1M190 206.5h1m1 0h1m3 0h4m2 0h1m1 0h6m1 0h5m1 0h4m5 0h1m1 0h1m8 0h1m1 0h2m1 0h41m1 0h30m1 0h3m1 0h3m1 0h5m1 0h1m2 0h1m1 0h6m3 0h4m1 0h2m1 0h1m1 0h2m1 0h1m2 0h3m4 0h1m16 0h1m14 0h1m8 0h1M189 207.5h1m1 0h1m1 0h13m1 0h2m2 0h7m8 0h2m3 0h1m1 0h1m3 0h4m1 0h4m1 0h61m1 0h6m1 0h1m2 0h4m2 0h4m1 0h1m2 0h3m1 0h1m1 0h3m1 0h1m2 0h3m1 0h2m2 0h1m1 0h1m1 0h3m1 0h1m1 0h1m19 0h1m29 0h1M189 208.5h8m1 0h2m1 0h6m1 0h3m1 0h6m1 0h2m1 0h1m3 0h2m1 0h1m4 0h1m3 0h7m1 0h46m1 0h17m1 0h1m1 0h6m1 0h1m2 0h1m1 0h1m1 0h3m1 0h1m1 0h2m1 0h1m1 0h1m2 0h3m1 0h6m3 0h5m7 0h1m15 0h1m4 0h1M189 209.5h3m1 0h1m1 0h12m1 0h5m1 0h2m1 0h1m2 0h1m3 0h2m1 0h1m1 0h2m4 0h77m1 0h2m1 0h6m1 0h1m4 0h4m1 0h1m1 0h1m5 0h2m2 0h4m1 0h6m1 0h1m3 0h1m3 0h1m19 0h1m19 0h1M190 210.5h2m1 0h3m1 0h1m1 0h4m1 0h6m1 0h1m1 0h5m2 0h1m1 0h2m3 0h3m1 0h3m2 0h75m1 0h4m1 0h2m1 0h1m3 0h1m5 0h1m2 0h2m1 0h2m1 0h7m2 0h1m1 0h3m3 0h1m1 0h2m1 0h2M190 211.5h3m1 0h16m1 0h1m1 0h10m4 0h3m3 0h78m1 0h3m1 0h2m1 0h5m2 0h3m1 0h1m1 0h3m1 0h1m1 0h3m1 0h1m2 0h1m2 0h1m2 0h5m4 0h1m3 0h1m53 0h1M189 212.5h5m1 0h17m1 0h2m1 0h2m1 0h2m3 0h1m1 0h1m1 0h1m1 0h1m2 0h1m1 0h3m1 0h66m1 0h12m1 0h4m1 0h1m1 0h8m3 0h7m2 0h4m2 0h2m5 0h1m58 0h1M190 213.5h1m1 0h1m2 0h4m2 0h11m2 0h1m1 0h2m9 0h1m2 0h2m1 0h2m1 0h70m3 0h2m1 0h3m1 0h1m1 0h7m1 0h6m1 0h1m1 0h8m1 0h1m3 0h1m3 0h3M190 214.5h1m1 0h3m1 0h6m1 0h10m1 0h1m1 0h1m5 0h1m2 0h2m1 0h3m1 0h6m1 0h69m2 0h4m1 0h8m2 0h2m2 0h1m1 0h5m1 0h4m1 0h5m1 0h2m1 0h2m4 0h1M192 215.5h1m1 0h8m2 0h9m1 0h4m1 0h1m3 0h1m3 0h4m1 0h3m1 0h73m2 0h2m2 0h2m2 0h1m6 0h3m2 0h1m1 0h4m4 0h2m2 0h1m1 0h1m2 0h1m67 0h1M191 216.5h4m1 0h3m2 0h7m2 0h2m2 0h2m1 0h1m5 0h1m1 0h2m1 0h1m2 0h2m1 0h69m1 0h1m1 0h5m1 0h4m4 0h1m1 0h2m1 0h1m1 0h1m2 0h8m1 0h1m2 0h1m2 0h1m2 0h1m1 0h2m4 0h1m61 0h1M190 217.5h2m1 0h10m1 0h2m1 0h1m1 0h3m1 0h5m1 0h3m3 0h1m1 0h82m2 0h1m1 0h2m1 0h13m1 0h8m2 0h1m1 0h1m2 0h1m1 0h1m1 0h1m3 0h3M189 218.5h3m1 0h2m1 0h4m1 0h4m1 0h3m1 0h1m1 0h1m1 0h1m6 0h5m1 0h73m1 0h1m1 0h5m1 0h9m1 0h10m2 0h2m1 0h1m1 0h1m3 0h1m1 0h3M189 219.5h22m1 0h2m1 0h1m4 0h1m1 0h2m1 0h3m1 0h71m1 0h6m1 0h2m2 0h1m1 0h1m2 0h7m1 0h2m1 0h2m2 0h1m2 0h1m1 0h4m77 0h1M190 220.5h16m3 0h3m1 0h2m1 0h1m3 0h3m3 0h77m1 0h1m1 0h1m1 0h2m2 0h2m1 0h1m1 0h2m1 0h4m1 0h2m1 0h2m1 0h1m1 0h1m2 0h1m2 0h1m2 0h1m8 0h1M191 221.5h17m1 0h1m1 0h1m4 0h1m1 0h3m1 0h5m1 0h65m1 0h7m2 0h1m2 0h2m1 0h1m1 0h2m1 0h5m3 0h2m1 0h2m1 0h1m3 0h6m3 0h1m1 0h1M190 222.5h4m1 0h1m1 0h10m2 0h1m1 0h4m1 0h1m4 0h13m1 0h57m1 0h9m1 0h4m1 0h2m1 0h1m4 0h8m1 0h2m1 0h2m1 0h2m2 0h1m2 0h1m1 0h1m2 0h1m74 0h1M189 223.5h1m1 0h1m1 0h6m1 0h3m1 0h8m1 0h1m2 0h2m1 0h7m1 0h1m1 0h66m1 0h4m1 0h4m2 0h5m2 0h1m1 0h4m1 0h1m1 0h4m1 0h1m2 0h2m3 0h2m80 0h1M191 224.5h2m1 0h3m1 0h1m1 0h1m1 0h2m1 0h8m3 0h2m1 0h1m1 0h2m1 0h70m1 0h6m2 0h5m3 0h8m2 0h1m1 0h1m1 0h2m5 0h2M190 225.5h1m1 0h7m1 0h6m1 0h4m2 0h1m2 0h3m1 0h78m1 0h3m1 0h1m1 0h2m1 0h1m1 0h6m1 0h1m2 0h2m2 0h1m4 0h4m1 0h2M191 226.5h3m1 0h1m1 0h1m1 0h5m4 0h4m2 0h5m1 0h57m1 0h10m1 0h1m1 0h1m1 0h3m1 0h1m2 0h4m1 0h2m1 0h1m1 0h1m1 0h8m3 0h5m1 0h2m3 0h1m2 0h1m80 0h1M189 227.5h1m2 0h1m1 0h2m2 0h3m2 0h6m1 0h1m1 0h1m5 0h76m3 0h1m2 0h6m1 0h1m1 0h6m1 0h1m1 0h1m1 0h1m1 0h1m5 0h3M191 228.5h2m1 0h3m1 0h1m1 0h1m2 0h9m3 0h68m1 0h3m1 0h2m2 0h2m1 0h3m1 0h1m1 0h3m1 0h1m1 0h2m2 0h1m4 0h1m3 0h2m2 0h1M189 229.5h6m1 0h7m2 0h4m1 0h1m1 0h3m1 0h59m1 0h19m1 0h6m1 0h2m1 0h10m1 0h1m8 0h1m91 0h1M189 230.5h14m1 0h1m1 0h3m1 0h2m2 0h1m1 0h3m1 0h22m1 0h25m2 0h19m1 0h1m1 0h3m5 0h5m1 0h1m1 0h2m4 0h1m4 0h1m7 0h2m1 0h1M191 231.5h1m2 0h7m1 0h7m1 0h5m1 0h53m1 0h9m1 0h7m1 0h6m2 0h6m1 0h2m1 0h3m1 0h1m2 0h1m1 0h1m1 0h2m8 0h2M190 232.5h2m1 0h8m1 0h1m1 0h2m1 0h5m1 0h67m2 0h2m2 0h2m1 0h1m2 0h2m1 0h1m2 0h2m2 0h1m5 0h1m3 0h1m4 0h2m1 0h1M190 233.5h3m1 0h8m1 0h4m3 0h1m1 0h1m1 0h51m1 0h3m3 0h2m2 0h1m2 0h2m3 0h1m1 0h8m4 0h2m3 0h5m1 0h3m1 0h5m7 0h1m1 0h1M189 234.5h12m1 0h4m1 0h3m1 0h52m1 0h5m1 0h5m4 0h9m1 0h6m1 0h2m2 0h1m2 0h1m1 0h5m1 0h1m4 0h1m1 0h1m99 0h1M189 235.5h2m2 0h1m1 0h7m2 0h3m1 0h53m2 0h1m1 0h2m3 0h3m1 0h4m1 0h1m3 0h1m1 0h2m1 0h3m4 0h1m2 0h1m4 0h1m1 0h1m13 0h1M191 236.5h4m1 0h1m1 0h5m1 0h1m1 0h59m1 0h1m1 0h1m4 0h1m1 0h1m4 0h1m3 0h2m3 0h2m3 0h2m8 0h2m2 0h1m1 0h4m2 0h1M189 237.5h1m1 0h18m1 0h34m1 0h18m2 0h1m1 0h2m2 0h1m3 0h1m1 0h1m3 0h7m1 0h1m2 0h1m6 0h1m2 0h2m4 0h1m3 0h2M189 238.5h1m2 0h2m1 0h8m2 0h3m1 0h4m1 0h38m1 0h9m3 0h1m1 0h2m1 0h3m5 0h1m1 0h1m6 0h1m4 0h1m2 0h1m3 0h1m4 0h1M189 239.5h1m2 0h1m1 0h1m2 0h3m1 0h2m1 0h2m1 0h8m1 0h33m1 0h2m1 0h4m1 0h2m5 0h3m2 0h1m3 0h2m9 0h1m1 0h2m3 0h1m7 0h1m2 0h1m6 0h1m9 0h1m97 0h1M189 240.5h1m1 0h1m1 0h1m2 0h1m1 0h4m1 0h3m1 0h1m1 0h1m1 0h40m1 0h2m1 0h1m1 0h4m1 0h2m1 0h3m4 0h1m1 0h1m3 0h1m1 0h1m3 0h3m19 0h1m111 0h1M189 241.5h8m1 0h5m2 0h5m1 0h3m2 0h20m1 0h22m1 0h6m15 0h2m12 0h1m2 0h1M190 242.5h12m1 0h2m1 0h4m2 0h2m1 0h1m1 0h26m1 0h2m1 0h2m1 0h2m1 0h2m2 0h3m3 0h1m2 0h1m6 0h1m3 0h1m5 0h1m9 0h1m124 0h1M190 243.5h6m1 0h1m1 0h3m1 0h1m3 0h1m1 0h29m2 0h6m2 0h4m1 0h1m1 0h1m2 0h1m7 0h1m1 0h1m4 0h1m5 0h1m8 0h1M189 244.5h3m1 0h9m2 0h4m1 0h1m1 0h1m1 0h1m1 0h4m1 0h5m2 0h9m1 0h2m1 0h1m1 0h1m4 0h1m1 0h1m1 0h1m1 0h2m20 0h1m4 0h1m9 0h1m1 0h1M190 245.5h2m3 0h2m1 0h10m2 0h4m1 0h1m1 0h1m1 0h2m1 0h2m1 0h1m1 0h2m1 0h3m3 0h4m2 0h4m2 0h1m3 0h2m1 0h1m2 0h3m2 0h1m2 0h1m3 0h1m11 0h1m7 0h1M189 246.5h2m1 0h8m1 0h1m4 0h1m1 0h1m3 0h2m1 0h1m3 0h9m1 0h1m1 0h2m2 0h2m1 0h2m1 0h3m1 0h1m1 0h1m2 0h1m11 0h2m3 0h2m3 0h1m3 0h1m6 0h1M189 247.5h6m1 0h1m1 0h1m2 0h2m2 0h2m5 0h2m3 0h2m4 0h1m1 0h1m1 0h3m1 0h4m4 0h1m1 0h1m4 0h1m3 0h3m3 0h1m25 0h1m6 0h1M193 248.5h3m4 0h1m1 0h1m1 0h2m1 0h2m1 0h4m1 0h2m2 0h1m5 0h2m1 0h1m1 0h1m1 0h1m5 0h2m1 0h1m6 0h1m1 0h2m1 0h1m6 0h2m6 0h2m9 0h1m138 0h1M192 249.5h2m1 0h1m1 0h3m1 0h1m1 0h2m4 0h2m2 0h1m4 0h1m4 0h1m3 0h2m1 0h1m3 0h2m4 0h1m2 0h2m11 0h1m2 0h2m157 0h1M190 250.5h1m1 0h1m2 0h1m1 0h2m1 0h4m1 0h1m3 0h1m7 0h1m2 0h1m1 0h1m1 0h1m4 0h2m1 0h1m1 0h1m1 0h1m1 0h1m3 0h1m5 0h1m5 0h1M191 251.5h1m2 0h2m3 0h1m1 0h2m1 0h1m4 0h1m3 0h1m2 0h2m3 0h1m3 0h3m3 0h3m3 0h1m1 0h1m11 0h1M189 252.5h1m2 0h4m5 0h1m1 0h2m2 0h1m9 0h1m1 0h1m1 0h4m1 0h1m5 0h1M190 253.5h1m5 0h1m1 0h2m1 0h1m4 0h2m3 0h1m1 0h1m1 0h1m2 0h2m1 0h1m2 0h1m3 0h1m6 0h1m5 0h1M193 254.5h1m4 0h1m1 0h2m2 0h1m1 0h1m5 0h4m2 0h3m4 0h1m1 0h1m3 0h1M189 255.5h1m2 0h2m10 0h5m2 0h1m2 0h1m1 0h1m4 0h3m4 0h2m11 0h1M195 256.5h1m1 0h1m4 0h1m1 0h3m6 0h2m5 0h2m3 0h1m11 0h1M191 257.5h1m1 0h1m6 0h1m1 0h1m4 0h1m1 0h1m1 0h1m2 0h1m1 0h2m2 0h1m1 0h1m5 0h1M199 258.5h2m10 0h1m2 0h3m6 0h1m3 0h2m2 0h2M191 259.5h1m1 0h2m4 0h6m3 0h3m5 0h1m4 0h4m2 0h1m6 0h1M191 260.5h1m3 0h2m4 0h2m1 0h2m4 0h1m2 0h1m1 0h1m7 0h1m1 0h1m1 0h1m1 0h2M200 261.5h1m4 0h1m1 0h1m2 0h2m4 0h1m4 0h1m1 0h1m2 0h1m1 0h1M194 262.5h1m1 0h1m1 0h1m14 0h1m7 0h1m1 0h2m2 0h2M193 263.5h1m6 0h1m3 0h2m2 0h1m1 0h1m2 0h3m3 0h1m4 0h1m2 0h2M192 264.5h1m2 0h2m1 0h2m9 0h1m2 0h1m1 0h2m3 0h1m4 0h3m2 0h1M194 265.5h2m2 0h1m2 0h1m1 0h1m2 0h4m5 0h1m3 0h1m2 0h1m2 0h1M189 266.5h1m1 0h1m3 0h1m4 0h1m1 0h2m1 0h1m1 0h1m6 0h2m7 0h1m1 0h1m8 0h1M189 267.5h2m4 0h1m1 0h1m4 0h1m6 0h3m8 0h2m1 0h1m2 0h1M193 268.5h1m1 0h1m2 0h1m5 0h2m2 0h1m1 0h1m2 0h1m3 0h2m1 0h1M195 269.5h1m1 0h1m1 0h1m5 0h2m2 0h1m10 0h2m4 0h1M190 270.5h1m7 0h1m2 0h1m6 0h1m9 0h2m2 0h3M189 271.5h1m2 0h1m5 0h1m3 0h1m9 0h1m3 0h2m5 0h1m3 0h1M192 272.5h2m3 0h2m2 0h1m1 0h1m2 0h2m1 0h1m5 0h1m7 0h1M199 273.5h3m7 0h1M193 274.5h1m1 0h1m4 0h1m11 0h1" stroke="#000" stroke-width="1" shape-rendering="crispEdges" fill="none"/>
<path d="M420.2 1.8V283.2M140.3 1.8V283.3M139.6 282.6H421" stroke="#1a1a1a" stroke-width="1.4" fill="none"/><path d="M139.6 2.5H421" stroke="#111" stroke-width="2" fill="none"/>
<path d="M137 271.65h3M151.17 282.6v2.7M137 260.70h3M162.14 282.6v2.7M137 249.75h3M173.11 282.6v2.7M137 238.80h3M184.08 282.6v2.7M137 227.85h3M195.05 282.6v2.7M137 216.90h3M206.02 282.6v2.7M137 205.95h3M216.99 282.6v2.7M137 195.00h3M227.96 282.6v2.7M137 184.05h3M238.93 282.6v2.7M137 173.10h3M249.90 282.6v2.7M137 162.15h3M260.87 282.6v2.7M137 151.20h3M271.84 282.6v2.7M137 140.25h3M282.81 282.6v2.7M137 129.30h3M293.78 282.6v2.7M137 118.35h3M304.75 282.6v2.7M137 107.40h3M315.72 282.6v2.7M137 96.45h3M326.69 282.6v2.7M137 85.50h3M337.66 282.6v2.7M137 74.55h3M348.63 282.6v2.7M137 63.60h3M359.60 282.6v2.7M137 52.65h3M370.57 282.6v2.7M137 41.70h3M381.54 282.6v2.7M137 30.75h3M392.51 282.6v2.7M137 19.80h3M403.48 282.6v2.7M137 8.85h3M414.45 282.6v2.7M140.2 282.6v2.7M137 282.6h3" stroke="#222" stroke-width="1.1" fill="none"/>
<polygon points="324.0,120.0 375.0,137.5 387.0,170.5 376.0,200.0 316.6,236.0 229.6,255.0 204.8,247.7 212.3,220.7 232.6,198.0 261.2,165.0" fill="none" stroke="#000" stroke-width="2.2" stroke-linejoin="round"/>
<text transform="translate(325,253.4) scale(1.06,1)" font-size="14.5">Viability</text>
<text x="261" y="306.3" font-size="19.5">FSC</text>
<text transform="translate(128.3,155.6) rotate(-90)" font-size="19">SSC</text>
<path d="M384 133.7H475" stroke="#000" stroke-width="1.8" fill="none"/>
<path d="M462.8 126.7L475.5 133.7L462.8 140.7" stroke="#000" stroke-width="1.8" fill="none"/>
<path d="M511 278.5V278.5H513V278.5H514V278.5H515V278.5H516V278.5H517V278.5H518V278.5H519V278.5H520V278.5H521V278.5H522V278.2H523V277.8H524V277.5H525V277.4H526V276.5H527V274.5H528V274.0H529V271.9H530V271.2H531V268.8H532V267.4H533V263.9H534V263.0H535V257.5H536V253.8H537V250.3H538V249.3H539V242.0H540V236.8H541V231.2H542V225.2H543V211.4H544V199.1H545V182.0H546V157.1H547V142.4H548V128.1H549V115.2H550V117.0H551V112.6H552V102.8H553V93.2H554V99.9H555V100.7H556V105.6H557V124.0H558V124.9H559V135.5H560V148.3H561V154.0H562V168.2H563V181.5H564V187.6H565V198.2H566V206.7H567V206.9H568V210.4H569V210.0H570V209.5H571V215.1H572V215.3H573V218.6H574V220.1H575V227.3H576V228.3H577V230.9H578V231.4H579V234.7H580V243.2H581V243.2H582V236.4H583V241.3H584V235.1H585V233.3H586V228.5H587V231.1H588V236.4H589V238.8H590V240.7H591V233.4H592V236.8H593V234.2H594V229.9H595V230.8H596V230.5H597V232.9H598V228.9H599V222.7H600V224.4H601V226.2H602V228.5H603V223.5H604V229.8H605V225.6H606V228.1H607V224.4H608V228.8H609V221.5H610V226.7H611V226.6H612V219.9H613V221.1H614V216.6H615V208.4H616V212.5H617V220.0H618V218.3H619V218.5H620V222.0H621V221.7H622V216.6H623V215.3H624V214.9H625V213.5H626V212.7H627V216.5H628V211.5H629V215.4H630V208.5H631V210.5H632V209.2H633V210.1H634V201.8H635V215.5H636V212.8H637V207.7H638V217.6H639V206.3H640V215.1H641V204.6H642V210.0H643V203.3H644V205.2H645V211.2H646V189.7H647V201.0H648V207.7H649V209.5H650V210.0H651V213.8H652V206.9H653V213.8H654V212.8H655V215.5H656V214.2H657V215.8H658V205.7H659V198.9H660V207.3H661V211.5H662V214.6H663V213.9H664V216.1H665V216.3H666V219.9H667V221.9H668V226.5H669V224.4H670V215.7H671V223.4H672V224.9H673V220.8H674V217.8H675V228.0H676V224.4H677V226.2H678V230.2H679V222.2H680V225.0H681V222.8H682V230.4H683V228.6H684V233.4H685V233.7H686V238.0H687V239.8H688V233.9H689V240.7H690V235.9H691V242.3H692V244.7H693V246.0H694V244.2H695V247.8H696V248.0H697V248.3H698V246.1H699V248.0H700V249.6H701V252.8H702V255.7H703V251.4H704V252.4H705V255.5H706V254.4H707V254.2H708V254.5H709V254.7H710V257.9H711V254.2H712V260.1H713V255.9H714V256.7H715V256.1H716V254.1H717V256.6H718V264.6H719V261.9H720V264.4H721V267.9H722V266.9H723V266.3H724V270.5H725V271.7H726V268.9H727V269.6H728V270.5H729V270.6H730V272.1H731V273.3H732V272.2H733V273.5H734V274.6H735V272.7H736V273.6H737V273.5H738V275.2H739V275.2H740V275.9H741V276.1H742V275.6H743V276.6H744V275.9H745V276.1H746V275.1H747V277.4H748V276.1H749V276.9H750V276.9H751V277.8H752V277.4H753V276.9H754V277.5H755V277.5H756V277.7H757V277.1H758V277.6H759V278.5H760V278.0H761V278.5H762V278.5H763V278.0H764V277.3H765V277.8H766V278.3H767V278.2H768V277.6H769V277.9H770V278.0H771V278.1H772V278.1H773V277.9H774V278.0H775V278.1H776V278.5H777V278.5Z" fill="#3a3a3a" stroke="#111" stroke-width="0.8"/>
<path d="M510.8 1V278.5M507.5 278.5H777" stroke="#555" stroke-width="1.7" fill="none"/>
<path d="M508 1.6h3M508 71.2h3M508 140.2h3M508 210.1h3" stroke="#555" stroke-width="1.4" fill="none"/>
<path d="M510.3 278.5v4M576.8 278.5v4M643.2 278.5v4M709.7 278.5v4M776.1 278.5v4" stroke="#444" stroke-width="1.4" fill="none"/>
<text x="510.3" y="296.7" font-size="14" text-anchor="middle">10<tspan font-size="8.5" dy="-5">0</tspan></text>
<text x="576.8" y="296.7" font-size="14" text-anchor="middle">10<tspan font-size="8.5" dy="-5">1</tspan></text>
<text x="643.2" y="296.7" font-size="14" text-anchor="middle">10<tspan font-size="8.5" dy="-5">2</tspan></text>
<text x="709.7" y="296.7" font-size="14" text-anchor="middle">10<tspan font-size="8.5" dy="-5">3</tspan></text>
<text x="776.1" y="296.7" font-size="14" text-anchor="middle">10<tspan font-size="8.5" dy="-5">4</tspan></text>
<path d="M574.6 213.2H774.4M574.6 209.7v7M774.4 209.7v7" stroke="#333" stroke-width="1.5" fill="none"/>
<text x="656.6" y="177.3" font-size="15.3">GFP+</text>
<text x="622.5" y="319.8" font-size="19">GFP</text>
<text transform="translate(498.6,182.5) scale(1.1,1) rotate(-90)" font-size="19">Cell count</text>
<polygon points="270.45,322.00 280.20,331.80 289.95,322.00 289.95,340.50 300.40,340.50 280.20,361.00 260.00,340.50 270.45,340.50" fill="#000"/><polygon points="273.55,329.51 280.20,336.20 286.85,329.51 286.85,343.60 292.99,343.60 280.20,356.58 267.41,343.60 273.55,343.60" fill="#bababa"/>
<polygon points="632.15,323.70 641.90,333.50 651.65,323.70 651.65,342.20 662.10,342.20 641.90,362.70 621.70,342.20 632.15,342.20" fill="#000"/><polygon points="635.25,331.21 641.90,337.90 648.55,331.21 648.55,345.30 654.69,345.30 641.90,358.28 629.11,345.30 635.25,345.30" fill="#bababa"/>
<path d="M128.4 379.4V594.5H427.3V379.4Z" fill="none" stroke="#777" stroke-width="1.3"/><path d="M125.4 594.5H427.3" stroke="#888" stroke-width="1.6"/><text x="120.3" y="600.1" font-size="15.5" text-anchor="end">0</text><text x="120.3" y="557.1" font-size="15.5" text-anchor="end">20</text><text x="120.3" y="514.1" font-size="15.5" text-anchor="end">40</text><text x="120.3" y="471.0" font-size="15.5" text-anchor="end">60</text><text x="120.3" y="428.0" font-size="15.5" text-anchor="end">80</text><text x="120.3" y="385.0" font-size="15.5" text-anchor="end">100</text><path d="M125.4 594.5h3M125.4 551.5h3M125.4 508.5h3M125.4 465.4h3M125.4 422.4h3M125.4 379.4h3" stroke="#777" stroke-width="1.2"/><path d="M155.6 403.3V394.0M152.1 394.0H159.1" stroke="#666" stroke-width="1.2"/><rect x="147.3" y="403.3" width="16.5" height="191.2" fill="#bcbcbc" stroke="#555" stroke-width="1.1"/><path d="M182.7 426.7V414.5M179.2 414.5H186.2" stroke="#666" stroke-width="1.2"/><rect x="174.5" y="426.7" width="16.5" height="167.8" fill="#bcbcbc" stroke="#555" stroke-width="1.1"/><path d="M209.9 470.0V451.7M206.4 451.7H213.4" stroke="#666" stroke-width="1.2"/><rect x="201.7" y="470.0" width="16.5" height="124.5" fill="#bcbcbc" stroke="#555" stroke-width="1.1"/><path d="M237.1 470.8V423.7M233.6 423.7H240.6" stroke="#666" stroke-width="1.2"/><rect x="228.8" y="470.8" width="16.5" height="123.7" fill="#bcbcbc" stroke="#555" stroke-width="1.1"/><path d="M291.4 407.4V403.1M287.9 403.1H294.9" stroke="#666" stroke-width="1.2"/><rect x="283.2" y="407.4" width="16.5" height="187.1" fill="#bcbcbc" stroke="#555" stroke-width="1.1"/><path d="M318.6 418.8V410.4M315.1 410.4H322.1" stroke="#666" stroke-width="1.2"/><rect x="310.3" y="418.8" width="16.5" height="175.7" fill="#bcbcbc" stroke="#555" stroke-width="1.1"/><path d="M345.8 504.4V495.1M342.3 495.1H349.3" stroke="#666" stroke-width="1.2"/><rect x="337.5" y="504.4" width="16.5" height="90.1" fill="#bcbcbc" stroke="#555" stroke-width="1.1"/><path d="M372.9 511.9V485.4M369.4 485.4H376.4" stroke="#666" stroke-width="1.2"/><rect x="364.7" y="511.9" width="16.5" height="82.6" fill="#bcbcbc" stroke="#555" stroke-width="1.1"/><path d="M400.1 431.5V420.7M396.6 420.7H403.6" stroke="#666" stroke-width="1.2"/><rect x="391.9" y="431.5" width="16.5" height="163.0" fill="#bcbcbc" stroke="#555" stroke-width="1.1"/><text transform="translate(90.0,486.3) rotate(-90)" font-size="19" text-anchor="middle">Viability (%)</text>
<path d="M494.6 379.4V594.5H794.6V379.4Z" fill="none" stroke="#777" stroke-width="1.3"/><path d="M491.6 594.5H794.6" stroke="#888" stroke-width="1.6"/><text x="486.6" y="600.1" font-size="15.5" text-anchor="end">0</text><text x="486.6" y="557.1" font-size="15.5" text-anchor="end">20</text><text x="486.6" y="514.1" font-size="15.5" text-anchor="end">40</text><text x="486.6" y="471.0" font-size="15.5" text-anchor="end">60</text><text x="486.6" y="428.0" font-size="15.5" text-anchor="end">80</text><text x="486.6" y="385.0" font-size="15.5" text-anchor="end">100</text><path d="M491.6 594.5h3M491.6 551.5h3M491.6 508.5h3M491.6 465.4h3M491.6 422.4h3M491.6 379.4h3" stroke="#777" stroke-width="1.2"/><path d="M524.6 592.8V592.8M521.1 592.8H528.1" stroke="#666" stroke-width="1.2"/><rect x="515.5" y="592.8" width="18.2" height="1.7" fill="#bcbcbc" stroke="#555" stroke-width="1.1"/><path d="M554.6 474.7V460.1M551.1 460.1H558.1" stroke="#666" stroke-width="1.2"/><rect x="545.5" y="474.7" width="18.2" height="119.8" fill="#bcbcbc" stroke="#555" stroke-width="1.1"/><path d="M584.6 483.1V451.7M581.1 451.7H588.1" stroke="#666" stroke-width="1.2"/><rect x="575.5" y="483.1" width="18.2" height="111.4" fill="#bcbcbc" stroke="#555" stroke-width="1.1"/><path d="M614.6 445.4V436.0M611.1 436.0H618.1" stroke="#666" stroke-width="1.2"/><rect x="605.5" y="445.4" width="18.2" height="149.1" fill="#bcbcbc" stroke="#555" stroke-width="1.1"/><path d="M674.6 592.8V592.8M671.1 592.8H678.1" stroke="#666" stroke-width="1.2"/><rect x="665.5" y="592.8" width="18.2" height="1.7" fill="#bcbcbc" stroke="#555" stroke-width="1.1"/><path d="M704.6 486.5V474.5M701.1 474.5H708.1" stroke="#666" stroke-width="1.2"/><rect x="695.5" y="486.5" width="18.2" height="108.0" fill="#bcbcbc" stroke="#555" stroke-width="1.1"/><path d="M734.6 488.0V465.0M731.1 465.0H738.1" stroke="#666" stroke-width="1.2"/><rect x="725.5" y="488.0" width="18.2" height="106.5" fill="#bcbcbc" stroke="#555" stroke-width="1.1"/><path d="M764.6 446.3V433.6M761.1 433.6H768.1" stroke="#666" stroke-width="1.2"/><rect x="755.5" y="446.3" width="18.2" height="148.2" fill="#bcbcbc" stroke="#555" stroke-width="1.1"/><text transform="translate(456.0,486.3) rotate(-90)" font-size="19" text-anchor="middle">GFP+ (%)</text>
<path d="M318.1 402.5V397.7H360.3V473.8M344.6 479V473.8H375.3V479" fill="none" stroke="#000" stroke-width="1.8"/>
<path d="M332.50 387.35v6.30M329.90 389.30l5.20 2.40M329.90 391.70l5.20 -2.40" stroke="#2a2a2a" stroke-width="1.1" fill="none"/><path d="M340.00 387.35v6.30M337.40 389.30l5.20 2.40M337.40 391.70l5.20 -2.40" stroke="#2a2a2a" stroke-width="1.1" fill="none"/><path d="M347.50 387.35v6.30M344.90 389.30l5.20 2.40M344.90 391.70l5.20 -2.40" stroke="#2a2a2a" stroke-width="1.1" fill="none"/>
<path d="M765 425.4V420.2H719.8V451.3M704.6 457V451.3H734.8V457" fill="none" stroke="#000" stroke-width="1.8"/>
<path d="M740.70 410.20v5.60M738.00 411.70l5.40 2.60M738.00 414.30l5.40 -2.60" stroke="#2a2a2a" stroke-width="1.1" fill="none"/>
<text transform="translate(1.0,621.7) scale(1.100,1)" font-size="14">PaEGFP (680 ng)</text>
<text transform="translate(1.0,653.7) scale(1.100,1)" font-size="14">pEGFP-N2 (680 ng)</text>
<text transform="translate(0.5,685.3) scale(1.100,1)" font-size="14">pEGFP-N2 (2000 ng)</text>
<text transform="translate(0.5,710.5) scale(1.100,1)" font-size="14">Null eluent from</text>
<text transform="translate(0.0,728.5) scale(1.100,1)" font-size="14">empty <tspan font-style="italic">E. coli</tspan></text>
<path d="M150.7 618.4h11.5M178.9 618.4h11.5M184.7 613.2v11.5M205.2 618.4h11.5M232.8 618.4h11.5M287.1 618.4h11.5M314.6 618.4h11.5M320.3 613.2v11.5M340.9 618.4h11.5M368.6 618.4h11.5M396.4 618.4h11.5M150.7 650.4h11.5M178.9 650.4h11.5M205.2 650.4h11.5M211.0 645.2v11.5M232.8 650.4h11.5M287.1 650.4h11.5M314.6 650.4h11.5M340.9 650.4h11.5M346.7 645.2v11.5M368.6 650.4h11.5M396.4 650.4h11.5M150.7 682.4h11.5M178.9 682.4h11.5M205.2 682.4h11.5M232.8 682.4h11.5M238.6 677.2v11.5M287.1 682.4h11.5M314.6 682.4h11.5M340.9 682.4h11.5M368.6 682.4h11.5M374.3 677.2v11.5M396.4 682.4h11.5M150.7 708.8h11.5M178.9 708.8h11.5M205.2 708.8h11.5M232.8 708.8h11.5M287.1 708.8h11.5M314.6 708.8h11.5M340.9 708.8h11.5M368.6 708.8h11.5M396.4 708.8h11.5M402.1 703.6v11.5" stroke="#333" stroke-width="1.1" fill="none"/>
<path d="M519.6 618.8h11.5M548.9 618.8h11.5M554.6 613.6v11.5M578.9 618.8h11.5M609.2 618.8h11.5M669.5 618.8h11.5M698.8 618.8h11.5M704.5 613.6v11.5M728.8 618.8h11.5M758.0 618.8h11.5M519.6 650.7h11.5M548.9 650.7h11.5M578.9 650.7h11.5M584.6 645.5v11.5M609.2 650.7h11.5M669.5 650.7h11.5M698.8 650.7h11.5M728.8 650.7h11.5M734.5 645.5v11.5M758.0 650.7h11.5M519.6 682.7h11.5M548.9 682.7h11.5M578.9 682.7h11.5M609.2 682.7h11.5M615.0 677.5v11.5M669.5 682.7h11.5M698.8 682.7h11.5M728.8 682.7h11.5M758.0 682.7h11.5M763.7 677.5v11.5" stroke="#333" stroke-width="1.1" fill="none"/>
<path d="M151.3 718.3V724.0Q151.3 729.0 156.3 729.0H193.6Q198.6 729.0 198.6 741.0Q198.6 729.0 203.6 729.0H241.5Q246.5 729.0 246.5 724.0V718.3" fill="none" stroke="#000" stroke-width="2"/>
<path d="M288.2 718.3V724.0Q288.2 729.0 293.2 729.0H342.9Q347.9 729.0 347.9 741.0Q347.9 729.0 352.9 729.0H403.5Q408.5 729.0 408.5 724.0V718.3" fill="none" stroke="#000" stroke-width="2"/>
<path d="M520.9 692.2V697.8Q520.9 702.8 525.9 702.8H565.3Q570.3 702.8 570.3 714.5Q570.3 702.8 575.3 702.8H614.3Q619.3 702.8 619.3 697.8V692.2" fill="none" stroke="#000" stroke-width="2"/>
<path d="M671.5 692.2V697.8Q671.5 702.8 676.5 702.8H715.2Q720.2 702.8 720.2 714.5Q720.2 702.8 725.2 702.8H764.3Q769.3 702.8 769.3 697.8V692.2" fill="none" stroke="#000" stroke-width="2"/>
<text x="198" y="763.5" font-size="19" text-anchor="middle">24 h</text>
<text x="350" y="763.5" font-size="19" text-anchor="middle">72 h</text>
<text x="569.8" y="736" font-size="19" text-anchor="middle">24 h</text>
<text x="721.7" y="736" font-size="19" text-anchor="middle">72 h</text>
</svg></body></html>
